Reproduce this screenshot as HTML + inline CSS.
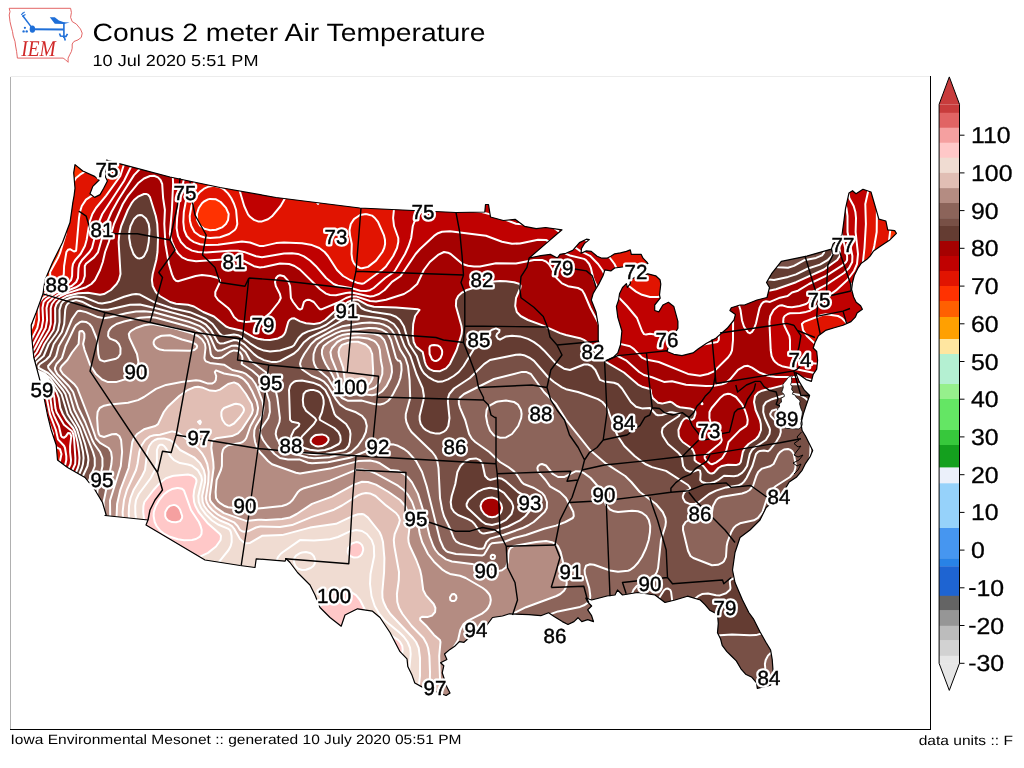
<!DOCTYPE html><html><head><meta charset="utf-8"><style>html,body{margin:0;padding:0;background:#fff;width:1024px;height:768px;overflow:hidden}svg{display:block}text{font-family:"Liberation Sans",sans-serif;text-rendering:geometricPrecision}</style></head><body><svg width="1024" height="768" viewBox="0 0 1024 768"><rect width="1024" height="768" fill="#fff"/><g opacity="0.998"><path d="M9.2 8.3 L70.6 8.3 L71.4 12.5 L70.6 17.4 L72.2 21.6 L76.4 24.1 L80.5 29.1 L82.2 33.2 L81.3 37.4 L78.0 39.9 L73.9 41.5 L72.2 44.0 L72.2 48.2 L71.4 51.5 L69.7 54.8 L68.1 58.1 L68.1 62.3 L65.6 59.8 L63.1 58.1 L17.4 58.1 L16.6 51.5 L15.6 46.0 L15.0 41.5 L13.2 36.0 L12.5 31.6 L11.0 26.0 L10.0 21.6 L9.6 18.0 L9.2 15.0 L10.0 11.6Z" fill="none" stroke="#e05555" stroke-width="0.9"/><g stroke="#1f6fd8" fill="#1f6fd8"><path d="M22.6 15.5 L31.8 27.6" stroke-width="1.5" fill="none"/><path d="M21.3 14.8 L23.3 12.6 M22.2 16.3 L25.5 14.4 M23.3 13.2 L24.6 11.8" stroke-width="1.1" fill="none"/><ellipse cx="32.4" cy="29.2" rx="2.7" ry="3.6" stroke="none"/><path d="M32.4 29.2 L63.9 29.6" stroke-width="2" fill="none"/><path d="M63.9 22.4 L63.9 38" stroke-width="1.6" fill="none"/><path d="M49.8 17.2 L54.8 17.2 L58.9 20.6 L63.9 22.2 L69.7 22.6 L63.9 23.9 L54.8 23.7 Z" stroke="none"/><path d="M59.5 33.5 L60.5 36 L66 36.5 L67.5 33.8 M64 36.3 L65.3 40.5" stroke-width="1.6" fill="none"/><circle cx="24.9" cy="27.8" r="1.1" stroke="none"/><circle cx="23.6" cy="31.4" r="1.2" stroke="none"/><circle cx="26.7" cy="31.4" r="1.2" stroke="none"/></g><text x="21.2" y="55.6" font-style="italic" font-size="22.5" fill="#d02828" style="font-family:'Liberation Serif',serif" textLength="34.5" lengthAdjust="spacingAndGlyphs">IEM</text><text x="92.5" y="40.6" font-size="25" fill="#000" textLength="393" lengthAdjust="spacingAndGlyphs">Conus 2 meter Air Temperature</text><text x="92.5" y="65.6" font-size="16" fill="#000" textLength="166" lengthAdjust="spacingAndGlyphs">10 Jul 2020 5:51 PM</text><path d="M10.5 76.5 H930" stroke="#ececec" stroke-width="1" fill="none"/><path d="M10.5 77 V729" stroke="#b0b0b0" stroke-width="1" fill="none"/><path d="M10 729.5 H931 M930.5 76 V730" stroke="#000" stroke-width="1" fill="none"/><defs><clipPath id="us"><path d="M75.0 164.6 L82.8 171.0 L94.6 176.4 L99.2 180.0 L92.8 186.4 L90.0 193.7 L94.6 197.4 L100.1 194.6 L103.7 188.3 L107.4 181.0 L105.6 177.3 L106.5 160.0 L119.2 163.7 L140.0 169.1 L170.0 177.0 L220.0 187.5 L276.0 197.5 L359.8 208.0 L456.0 212.5 L484.8 212.0 L485.5 204.5 L488.5 204.5 L490.5 217.0 L503.4 220.5 L515.1 219.3 L524.5 226.3 L536.2 228.7 L545.6 227.5 L562.0 229.8 L545.6 243.9 L529.2 258.0 L540.9 255.6 L550.3 254.4 L557.3 258.0 L560.0 254.3 L565.9 253.3 L572.7 250.4 L579.5 242.6 L586.4 239.2 L589.3 239.6 L584.4 243.6 L581.5 248.4 L581.0 253.3 L586.4 250.9 L591.3 251.4 L597.1 256.3 L602.0 258.2 L606.9 258.2 L610.8 256.3 L614.7 253.8 L620.5 252.8 L626.4 251.4 L630.3 249.9 L631.3 254.3 L637.1 254.3 L641.1 254.3 L643.0 258.2 L646.9 262.1 L647.9 263.6 L638.1 264.6 L630.3 266.0 L622.5 267.0 L614.7 268.0 L610.8 270.9 L604.9 269.9 L603.0 275.8 L599.1 283.6 L596.1 288.5 L593.2 293.4 L591.3 300.0 L596.0 312.0 L598.2 325.0 L598.2 340.0 L601.0 352.0 L604.5 360.0 L606.8 360.4 L613.7 357.0 L617.8 352.9 L620.5 344.7 L621.9 331.0 L617.8 317.3 L616.4 306.4 L618.6 300.0 L619.6 293.4 L622.5 287.5 L626.4 283.6 L627.4 287.5 L630.3 283.6 L630.3 279.7 L638.1 275.8 L647.9 273.8 L655.7 275.8 L660.0 279.7 L660.8 284.0 L659.5 295.0 L660.2 298.2 L654.7 305.0 L654.7 310.5 L658.8 311.9 L662.9 305.0 L668.4 302.3 L673.8 306.4 L677.9 321.4 L677.9 328.3 L673.8 335.1 L671.1 342.0 L668.4 347.4 L667.0 351.5 L673.8 354.3 L682.0 355.6 L693.0 352.9 L698.4 348.8 L706.6 343.3 L716.2 337.9 L727.2 328.3 L734.0 320.0 L735.4 314.6 L729.9 310.5 L731.3 307.8 L740.0 305.0 L744.5 305.0 L757.0 300.0 L767.0 297.5 L769.5 287.5 L766.5 282.5 L771.6 273.7 L781.3 261.4 L806.8 256.1 L831.4 249.1 L833.2 243.8 L842.0 235.0 L843.7 222.7 L845.5 208.7 L849.0 192.9 L852.5 190.7 L856.0 193.7 L863.0 189.3 L871.0 192.0 L878.9 219.2 L885.9 221.0 L887.7 229.8 L894.7 230.6 L896.4 233.3 L892.9 236.8 L889.4 240.3 L884.1 243.8 L878.9 247.3 L873.6 250.9 L870.1 256.1 L866.6 259.6 L861.3 263.2 L857.8 268.4 L854.3 275.5 L852.5 282.5 L851.6 289.5 L853.6 297.0 L856.2 302.3 L860.6 305.8 L862.4 309.3 L857.1 312.9 L855.3 317.2 L851.0 321.6 L843.0 325.2 L834.3 327.8 L825.5 330.4 L818.4 335.7 L814.9 342.7 L813.2 348.0 L816.7 351.5 L817.6 360.3 L816.7 369.1 L813.2 374.4 L811.4 381.4 L806.1 379.6 L799.1 374.4 L795.6 372.6 L799.1 381.4 L804.4 390.2 L809.6 395.5 L808.0 400.0 L805.6 407.0 L803.3 414.1 L801.0 423.4 L802.1 430.5 L805.6 436.3 L812.7 450.4 L810.3 456.3 L805.6 463.3 L802.1 470.3 L796.3 477.3 L789.2 482.0 L784.5 490.0 L775.0 500.0 L766.2 507.5 L760.0 520.0 L750.0 530.0 L740.0 537.5 L735.0 552.5 L732.5 570.0 L735.0 582.5 L742.5 600.0 L748.8 612.5 L753.4 618.8 L759.7 631.3 L765.9 642.2 L770.6 650.0 L772.2 659.4 L773.0 670.3 L770.6 685.2 L764.4 686.7 L757.3 688.3 L756.6 682.8 L751.9 677.3 L745.6 674.2 L740.9 668.8 L736.3 660.9 L731.6 656.3 L726.9 651.6 L722.2 645.3 L720.6 639.0 L717.5 632.8 L718.3 623.4 L717.5 614.1 L709.7 610.2 L705.0 604.7 L700.3 600.0 L687.5 596.2 L675.0 600.0 L665.0 602.5 L655.0 595.0 L637.5 592.5 L622.5 595.0 L617.5 590.0 L615.0 595.0 L607.0 596.0 L599.4 598.0 L591.6 600.0 L585.7 598.0 L587.7 602.0 L591.6 606.0 L587.7 609.8 L591.6 615.7 L593.5 621.6 L587.7 619.6 L581.8 621.6 L578.0 617.7 L574.0 621.6 L568.0 624.5 L562.3 621.6 L554.5 616.7 L548.6 612.8 L540.8 615.7 L529.0 614.7 L509.5 613.8 L502.5 616.0 L492.5 617.5 L485.0 627.5 L475.0 632.5 L464.0 642.3 L459.4 641.6 L454.7 646.2 L450.0 649.4 L444.5 654.0 L446.9 659.5 L440.6 662.7 L443.8 665.8 L442.2 672.8 L443.8 677.5 L446.9 686.9 L450.0 693.1 L446.1 695.5 L434.0 691.0 L421.9 686.9 L414.8 683.0 L411.7 674.4 L407.8 666.6 L407.0 658.8 L400.0 651.7 L390.0 632.5 L380.0 617.5 L372.5 611.2 L357.5 608.8 L345.0 615.0 L341.2 626.2 L330.0 617.5 L320.0 607.5 L315.0 595.0 L310.0 585.0 L297.5 572.5 L290.0 562.5 L286.2 558.8 L285.0 561.2 L256.2 558.8 L255.0 567.5 L240.0 565.5 L205.0 560.0 L146.0 525.0 L148.0 520.0 L105.0 515.5 L106.2 515.0 L102.5 502.5 L95.0 490.0 L85.0 477.5 L67.5 467.5 L57.5 460.0 L56.2 445.0 L51.2 430.0 L47.5 415.0 L45.0 402.5 L42.5 390.0 L38.8 376.2 L33.8 357.5 L32.5 345.0 L31.5 335.0 L31.2 325.0 L36.2 312.5 L43.0 293.8 L45.0 280.0 L52.5 262.5 L62.5 242.5 L70.0 222.5 L71.8 210.1 L72.8 202.8 L74.1 195.6 L75.0 188.3 L73.7 172.8Z"/></clipPath></defs><g clip-path="url(#us)"><path d="M75.0 164.6 L82.8 171.0 L94.6 176.4 L99.2 180.0 L92.8 186.4 L90.0 193.7 L94.6 197.4 L100.1 194.6 L103.7 188.3 L107.4 181.0 L105.6 177.3 L106.5 160.0 L119.2 163.7 L140.0 169.1 L170.0 177.0 L220.0 187.5 L276.0 197.5 L359.8 208.0 L456.0 212.5 L484.8 212.0 L485.5 204.5 L488.5 204.5 L490.5 217.0 L503.4 220.5 L515.1 219.3 L524.5 226.3 L536.2 228.7 L545.6 227.5 L562.0 229.8 L545.6 243.9 L529.2 258.0 L540.9 255.6 L550.3 254.4 L557.3 258.0 L560.0 254.3 L565.9 253.3 L572.7 250.4 L579.5 242.6 L586.4 239.2 L589.3 239.6 L584.4 243.6 L581.5 248.4 L581.0 253.3 L586.4 250.9 L591.3 251.4 L597.1 256.3 L602.0 258.2 L606.9 258.2 L610.8 256.3 L614.7 253.8 L620.5 252.8 L626.4 251.4 L630.3 249.9 L631.3 254.3 L637.1 254.3 L641.1 254.3 L643.0 258.2 L646.9 262.1 L647.9 263.6 L638.1 264.6 L630.3 266.0 L622.5 267.0 L614.7 268.0 L610.8 270.9 L604.9 269.9 L603.0 275.8 L599.1 283.6 L596.1 288.5 L593.2 293.4 L591.3 300.0 L596.0 312.0 L598.2 325.0 L598.2 340.0 L601.0 352.0 L604.5 360.0 L606.8 360.4 L613.7 357.0 L617.8 352.9 L620.5 344.7 L621.9 331.0 L617.8 317.3 L616.4 306.4 L618.6 300.0 L619.6 293.4 L622.5 287.5 L626.4 283.6 L627.4 287.5 L630.3 283.6 L630.3 279.7 L638.1 275.8 L647.9 273.8 L655.7 275.8 L660.0 279.7 L660.8 284.0 L659.5 295.0 L660.2 298.2 L654.7 305.0 L654.7 310.5 L658.8 311.9 L662.9 305.0 L668.4 302.3 L673.8 306.4 L677.9 321.4 L677.9 328.3 L673.8 335.1 L671.1 342.0 L668.4 347.4 L667.0 351.5 L673.8 354.3 L682.0 355.6 L693.0 352.9 L698.4 348.8 L706.6 343.3 L716.2 337.9 L727.2 328.3 L734.0 320.0 L735.4 314.6 L729.9 310.5 L731.3 307.8 L740.0 305.0 L744.5 305.0 L757.0 300.0 L767.0 297.5 L769.5 287.5 L766.5 282.5 L771.6 273.7 L781.3 261.4 L806.8 256.1 L831.4 249.1 L833.2 243.8 L842.0 235.0 L843.7 222.7 L845.5 208.7 L849.0 192.9 L852.5 190.7 L856.0 193.7 L863.0 189.3 L871.0 192.0 L878.9 219.2 L885.9 221.0 L887.7 229.8 L894.7 230.6 L896.4 233.3 L892.9 236.8 L889.4 240.3 L884.1 243.8 L878.9 247.3 L873.6 250.9 L870.1 256.1 L866.6 259.6 L861.3 263.2 L857.8 268.4 L854.3 275.5 L852.5 282.5 L851.6 289.5 L853.6 297.0 L856.2 302.3 L860.6 305.8 L862.4 309.3 L857.1 312.9 L855.3 317.2 L851.0 321.6 L843.0 325.2 L834.3 327.8 L825.5 330.4 L818.4 335.7 L814.9 342.7 L813.2 348.0 L816.7 351.5 L817.6 360.3 L816.7 369.1 L813.2 374.4 L811.4 381.4 L806.1 379.6 L799.1 374.4 L795.6 372.6 L799.1 381.4 L804.4 390.2 L809.6 395.5 L808.0 400.0 L805.6 407.0 L803.3 414.1 L801.0 423.4 L802.1 430.5 L805.6 436.3 L812.7 450.4 L810.3 456.3 L805.6 463.3 L802.1 470.3 L796.3 477.3 L789.2 482.0 L784.5 490.0 L775.0 500.0 L766.2 507.5 L760.0 520.0 L750.0 530.0 L740.0 537.5 L735.0 552.5 L732.5 570.0 L735.0 582.5 L742.5 600.0 L748.8 612.5 L753.4 618.8 L759.7 631.3 L765.9 642.2 L770.6 650.0 L772.2 659.4 L773.0 670.3 L770.6 685.2 L764.4 686.7 L757.3 688.3 L756.6 682.8 L751.9 677.3 L745.6 674.2 L740.9 668.8 L736.3 660.9 L731.6 656.3 L726.9 651.6 L722.2 645.3 L720.6 639.0 L717.5 632.8 L718.3 623.4 L717.5 614.1 L709.7 610.2 L705.0 604.7 L700.3 600.0 L687.5 596.2 L675.0 600.0 L665.0 602.5 L655.0 595.0 L637.5 592.5 L622.5 595.0 L617.5 590.0 L615.0 595.0 L607.0 596.0 L599.4 598.0 L591.6 600.0 L585.7 598.0 L587.7 602.0 L591.6 606.0 L587.7 609.8 L591.6 615.7 L593.5 621.6 L587.7 619.6 L581.8 621.6 L578.0 617.7 L574.0 621.6 L568.0 624.5 L562.3 621.6 L554.5 616.7 L548.6 612.8 L540.8 615.7 L529.0 614.7 L509.5 613.8 L502.5 616.0 L492.5 617.5 L485.0 627.5 L475.0 632.5 L464.0 642.3 L459.4 641.6 L454.7 646.2 L450.0 649.4 L444.5 654.0 L446.9 659.5 L440.6 662.7 L443.8 665.8 L442.2 672.8 L443.8 677.5 L446.9 686.9 L450.0 693.1 L446.1 695.5 L434.0 691.0 L421.9 686.9 L414.8 683.0 L411.7 674.4 L407.8 666.6 L407.0 658.8 L400.0 651.7 L390.0 632.5 L380.0 617.5 L372.5 611.2 L357.5 608.8 L345.0 615.0 L341.2 626.2 L330.0 617.5 L320.0 607.5 L315.0 595.0 L310.0 585.0 L297.5 572.5 L290.0 562.5 L286.2 558.8 L285.0 561.2 L256.2 558.8 L255.0 567.5 L240.0 565.5 L205.0 560.0 L146.0 525.0 L148.0 520.0 L105.0 515.5 L106.2 515.0 L102.5 502.5 L95.0 490.0 L85.0 477.5 L67.5 467.5 L57.5 460.0 L56.2 445.0 L51.2 430.0 L47.5 415.0 L45.0 402.5 L42.5 390.0 L38.8 376.2 L33.8 357.5 L32.5 345.0 L31.5 335.0 L31.2 325.0 L36.2 312.5 L43.0 293.8 L45.0 280.0 L52.5 262.5 L62.5 242.5 L70.0 222.5 L71.8 210.1 L72.8 202.8 L74.1 195.6 L75.0 188.3 L73.7 172.8Z" fill="#8c645a"/><path fill="#ffa000" d="M22.0 150.0L34.9 150.0 30.3 166.0 27.5 182.0 26.3 198.0 26.4 226.0 25.9 238.0 24.1 250.0 20.0 268.7 20.0 150.0Z"/><path fill="#ff6000" d="M36.0 150.0L62.2 150.0 56.0 160.9 52.0 169.5 49.0 178.0 47.2 186.0 45.6 202.0 45.9 234.0 44.4 246.0 37.5 264.0 33.8 280.0 24.0 294.0 21.5 300.0 20.0 305.8 20.0 268.7 24.1 250.0 25.9 238.0 26.4 226.0 26.3 200.0 27.1 186.0 29.9 168.0 34.9 150.0ZM20.9 386.0L26.4 390.0 28.6 394.0 29.9 422.0 28.8 436.0 23.6 468.0 20.0 484.9 20.0 385.4Z"/><path fill="#ff3200" d="M62.0 150.3L101.8 150.0 98.0 158.2 94.0 164.3 90.0 168.3 80.0 174.7 76.0 178.0 71.0 186.0 68.9 192.0 67.3 200.0 66.5 226.0 65.7 234.0 60.0 253.2 58.0 257.8 50.1 272.0 50.4 280.0 48.0 286.0 44.7 290.0 36.0 294.5 34.0 296.3 31.5 300.0 30.1 306.0 29.8 316.0 29.1 320.0 20.0 341.9 20.4 304.0 24.0 294.0 33.8 280.0 37.5 264.0 44.4 246.0 45.9 234.0 45.6 202.0 47.2 186.0 49.0 178.0 52.0 169.5 61.0 152.0ZM904.0 150.0L906.0 150.0 906.0 284.5 896.0 276.9 890.7 272.0 888.0 268.0 886.4 262.0 892.0 216.0 894.0 208.1 899.9 190.0 902.4 178.0 903.7 164.0 903.4 150.0ZM208.0 199.4L214.0 198.9 218.0 200.2 224.0 205.2 228.0 211.6 228.9 216.0 227.2 222.0 224.0 226.0 220.0 228.5 216.0 229.8 212.0 230.3 206.0 229.5 200.5 226.0 197.8 222.0 196.7 216.0 198.0 209.8 202.0 203.3 206.6 200.0ZM21.8 378.0L28.0 381.4 37.3 384.0 38.6 386.0 38.8 390.0 37.2 402.0 41.1 432.0 39.0 448.0 38.6 464.0 37.9 470.0 27.3 514.0 20.0 553.4 20.0 484.9 23.6 468.0 28.8 436.0 29.9 422.0 28.6 394.0 26.4 390.0 20.0 385.4 20.0 376.4Z"/><path fill="#e11400" d="M102.0 150.0L129.9 150.0 125.4 160.0 120.3 176.0 106.0 195.8 96.0 208.0 92.4 214.0 89.6 222.0 86.6 240.0 84.9 246.0 80.6 254.0 75.3 260.0 73.0 264.0 72.3 268.0 72.1 276.0 71.1 280.0 68.0 283.4 56.0 289.1 42.7 298.0 39.4 302.0 38.5 306.0 39.0 320.0 37.3 328.0 30.0 342.3 22.8 354.0 20.8 360.0 20.6 364.0 21.4 368.0 23.5 372.0 25.3 374.0 30.0 377.1 40.0 380.1 42.2 382.0 43.2 384.0 44.4 390.0 43.9 402.0 48.0 420.0 53.1 434.0 52.1 442.0 54.0 446.0 60.0 449.1 61.5 454.0 60.0 460.9 52.0 476.0 47.4 488.0 43.6 502.0 39.8 522.0 34.1 564.0 30.2 606.0 27.7 654.0 26.6 706.0 20.0 706.0 20.0 553.4 27.3 514.0 37.9 470.0 38.6 464.0 39.0 448.0 41.1 432.0 37.2 402.0 38.8 390.0 38.6 386.0 37.3 384.0 26.0 380.6 20.0 376.4 20.0 341.9 29.1 320.0 29.8 316.0 30.1 306.0 31.5 300.0 34.0 296.3 36.0 294.5 44.7 290.0 48.0 286.0 50.4 280.0 50.1 272.0 58.0 257.8 60.0 253.2 65.7 234.0 66.5 226.0 67.3 200.0 68.9 192.0 71.0 186.0 76.0 178.0 80.0 174.7 90.0 168.3 94.0 164.3 98.0 158.2 101.8 150.0ZM310.0 151.2L310.7 150.0 655.5 150.0 654.0 162.0 653.4 174.0 654.5 200.0 656.2 214.0 658.8 228.0 669.5 268.0 670.4 280.0 668.8 288.0 666.5 292.0 664.6 294.0 661.4 296.0 658.0 297.0 654.0 297.3 648.0 296.7 640.0 293.9 636.0 291.6 624.0 281.8 620.1 276.0 614.0 263.2 610.0 258.0 586.0 240.4 568.0 218.4 562.0 212.9 556.0 208.6 546.0 203.7 516.6 194.0 460.0 171.0 446.0 166.5 434.0 164.3 424.0 164.0 414.0 166.0 406.0 170.3 402.2 174.0 400.0 177.2 397.8 182.0 396.0 189.2 393.1 218.0 394.0 226.0 398.3 238.0 398.3 242.0 397.0 248.0 393.2 256.0 386.0 266.4 382.1 270.0 364.0 283.3 362.0 283.7 358.0 283.1 350.2 280.0 343.1 276.0 337.0 270.0 328.0 256.0 324.6 252.0 319.3 248.0 312.0 245.1 302.0 243.3 284.0 242.5 276.0 243.1 264.0 245.9 260.0 246.1 250.0 242.5 242.0 241.4 218.0 244.7 206.0 245.1 200.0 244.2 194.0 242.1 190.0 239.5 186.7 236.0 184.2 230.0 183.3 222.0 183.8 212.0 185.7 202.0 189.2 192.0 193.5 184.0 198.0 177.9 204.0 172.3 210.0 169.0 214.0 168.0 218.0 167.8 224.0 169.2 230.0 173.1 234.2 178.0 238.0 185.1 244.2 206.0 248.0 214.3 250.0 216.8 254.0 219.9 258.0 221.4 262.0 221.4 268.0 219.2 272.0 216.3 280.6 206.0 285.2 198.0 298.0 170.7 309.5 152.0ZM206.6 200.0L202.0 203.3 198.0 209.8 196.7 216.0 197.8 222.0 200.5 226.0 206.0 229.5 212.0 230.3 216.0 229.8 220.0 228.5 224.0 226.0 227.2 222.0 228.9 216.0 228.0 211.6 224.0 205.2 218.0 200.2 214.0 198.9 208.0 199.4ZM860.0 150.0L903.4 150.0 903.7 164.0 902.4 178.0 899.9 190.0 894.0 208.1 892.0 216.0 886.4 262.0 888.0 268.0 890.7 272.0 896.0 276.9 906.0 284.5 906.0 345.4 895.1 332.0 882.6 310.0 874.8 300.0 870.0 296.1 866.0 294.2 854.0 292.1 852.0 290.4 851.1 288.0 851.9 284.0 857.4 278.0 859.8 274.0 862.7 264.0 864.5 248.0 865.9 224.0 865.3 204.0 868.0 192.0 867.6 186.0 864.9 172.0 859.4 150.0ZM820.0 315.7L824.0 314.4 826.0 314.3 836.0 315.4 840.0 316.9 844.0 320.0 848.2 326.0 849.7 330.0 850.2 334.0 848.6 340.0 845.2 344.0 842.0 346.2 836.0 348.5 830.0 349.3 824.0 348.9 818.0 346.4 806.9 336.0 803.0 330.0 801.9 324.0 804.0 321.9 819.4 316.0Z"/><path fill="#c00000" d="M130.0 150.0L310.7 150.0 298.0 170.7 285.2 198.0 280.6 206.0 272.0 216.3 268.0 219.2 264.0 221.0 260.0 221.6 256.0 220.9 252.0 218.6 248.0 214.3 244.2 206.0 240.4 192.0 237.5 184.0 234.0 177.7 228.0 171.5 222.0 168.5 216.0 167.8 210.0 169.0 206.0 171.0 202.0 173.9 194.8 182.0 189.2 192.0 185.2 204.0 183.4 216.0 183.5 226.0 185.5 234.0 188.0 237.6 190.6 240.0 198.0 243.7 206.0 245.1 214.0 245.0 242.0 241.4 250.0 242.5 260.0 246.1 264.0 245.9 274.0 243.4 282.0 242.5 300.0 243.2 310.0 244.6 318.0 247.3 324.0 251.4 328.0 256.0 337.0 270.0 343.1 276.0 350.2 280.0 358.0 283.1 362.0 283.7 364.0 283.3 382.1 270.0 386.0 266.4 393.2 256.0 397.0 248.0 398.3 242.0 398.3 238.0 394.0 226.0 393.1 218.0 396.0 189.2 397.8 182.0 400.0 177.2 402.2 174.0 406.0 170.3 414.0 166.0 424.0 164.0 434.0 164.3 446.0 166.5 460.0 171.0 516.6 194.0 546.0 203.7 556.0 208.6 562.0 212.9 568.0 218.4 586.0 240.4 610.0 258.0 614.5 264.0 621.2 278.0 626.0 283.8 636.0 291.6 640.0 293.9 646.0 296.2 654.0 297.3 658.0 297.0 661.4 296.0 666.5 292.0 669.4 286.0 670.4 278.0 668.7 264.0 659.3 230.0 655.1 206.0 653.7 190.0 653.4 176.0 654.0 162.0 655.5 150.0 711.3 150.0 706.3 158.0 702.5 166.0 699.5 174.0 696.9 184.0 695.2 194.0 694.4 204.0 694.9 224.0 696.6 236.0 699.1 248.0 702.5 260.0 706.1 270.0 713.8 286.0 728.0 307.8 732.3 316.0 733.1 320.0 733.1 338.0 732.4 348.0 731.5 352.0 728.0 357.5 714.0 371.4 704.0 375.2 698.0 375.6 686.0 373.3 658.0 361.7 646.0 359.6 642.0 357.7 634.0 349.1 630.0 346.3 618.0 343.4 614.0 341.7 612.0 339.8 611.3 336.0 612.7 322.0 611.7 314.0 594.7 282.0 593.2 278.0 590.9 268.0 588.0 262.3 585.8 260.0 582.0 258.1 571.8 256.0 566.3 254.0 550.1 242.0 544.0 239.6 536.0 240.0 520.0 243.5 512.0 243.7 503.1 242.0 488.0 236.3 484.0 235.5 450.0 231.3 444.0 231.3 440.0 232.3 434.0 235.9 418.0 251.1 400.7 276.0 392.0 281.8 382.2 292.0 378.0 294.5 372.0 296.3 368.0 296.2 352.0 292.7 346.0 293.0 336.0 295.3 332.0 295.4 328.0 294.5 324.0 292.4 318.5 288.0 300.0 269.6 294.0 265.8 288.0 263.7 284.0 263.2 278.0 263.6 264.0 267.0 260.0 267.4 254.0 266.2 242.0 260.2 236.0 259.0 200.0 261.2 194.0 261.1 188.0 260.1 182.0 257.3 176.9 252.0 172.8 244.0 169.8 234.0 171.9 210.0 173.1 184.0 172.8 176.0 171.3 170.0 168.0 164.6 166.0 162.8 162.0 160.9 156.0 160.4 148.0 162.9 142.0 166.8 134.8 174.0 114.7 206.0 109.6 216.0 106.2 224.0 98.0 252.3 94.0 257.4 86.0 263.8 84.8 266.0 84.8 276.0 82.8 282.0 80.0 284.9 76.0 287.3 58.0 294.5 52.7 298.0 48.3 302.0 46.7 306.0 47.1 320.0 45.7 328.0 35.0 348.0 28.2 358.0 26.7 362.0 27.0 368.0 29.6 372.0 34.0 374.8 42.2 378.0 44.6 380.0 47.2 384.0 49.3 390.0 52.0 410.0 54.0 415.6 58.9 426.0 61.2 436.0 62.0 437.0 64.0 437.7 66.0 436.1 68.0 433.1 70.0 433.2 71.3 436.0 70.1 446.0 70.1 452.0 71.0 460.0 70.6 464.0 61.9 482.0 57.5 496.0 54.3 516.0 50.5 554.0 48.4 588.0 47.5 622.0 47.9 662.0 49.3 706.0 26.6 706.0 27.5 658.0 29.5 616.0 32.6 578.0 37.1 540.0 41.2 514.0 45.6 494.0 51.1 478.0 60.0 460.9 61.5 454.0 60.0 449.1 54.0 446.0 52.1 442.0 53.1 434.0 48.0 420.0 43.9 402.0 44.4 390.0 43.2 384.0 42.2 382.0 40.0 380.1 30.0 377.1 25.3 374.0 23.5 372.0 21.4 368.0 20.6 364.0 20.8 360.0 22.8 354.0 30.0 342.3 37.3 328.0 39.0 320.0 38.5 306.0 39.4 302.0 42.7 298.0 56.0 289.1 68.0 283.4 71.1 280.0 72.1 276.0 72.3 268.0 73.0 264.0 75.3 260.0 80.6 254.0 84.9 246.0 86.6 240.0 89.6 222.0 92.4 214.0 96.0 208.0 106.0 195.8 120.3 176.0 125.4 160.0 129.9 150.0ZM818.0 150.0L859.4 150.0 864.9 172.0 867.6 186.0 868.0 192.0 865.3 204.0 865.9 224.0 864.5 248.0 862.7 264.0 859.8 274.0 857.4 278.0 851.9 284.0 851.1 288.0 852.0 290.4 854.0 292.1 866.0 294.2 870.0 296.1 874.8 300.0 882.6 310.0 895.1 332.0 906.0 345.4 906.0 423.7 896.0 412.0 885.8 402.0 875.6 394.0 865.6 388.0 852.0 382.2 836.0 377.4 782.0 366.2 778.0 364.3 775.2 362.0 773.5 360.0 771.6 356.0 770.7 350.0 769.4 322.0 770.3 316.0 773.6 310.0 778.0 306.3 780.0 305.4 782.0 305.2 788.0 307.1 792.0 307.3 799.6 306.0 806.1 304.0 808.7 302.0 811.3 294.0 812.7 292.0 826.0 284.8 844.0 273.0 849.0 268.0 852.2 262.0 852.4 256.0 847.5 232.0 847.5 216.0 846.4 208.0 839.3 194.0 832.0 175.1 828.0 166.4 823.2 158.0 817.5 150.0ZM819.4 316.0L804.0 321.9 801.9 324.0 803.0 330.0 806.9 336.0 818.0 346.4 824.0 348.9 830.0 349.3 836.0 348.5 842.0 346.2 845.2 344.0 848.6 340.0 850.2 334.0 849.7 330.0 848.2 326.0 844.0 320.0 840.0 316.9 836.0 315.4 826.0 314.3 824.0 314.4 820.0 315.7Z"/><path fill="#a50000" d="M710.0 151.8L711.3 150.0 817.5 150.0 824.0 159.3 828.8 168.0 839.3 194.0 846.4 208.0 847.5 216.0 847.5 232.0 852.4 256.0 852.2 262.0 849.0 268.0 844.0 273.0 826.0 284.8 812.7 292.0 811.3 294.0 808.7 302.0 806.1 304.0 799.6 306.0 792.0 307.3 788.0 307.1 782.0 305.2 780.0 305.4 778.0 306.3 773.6 310.0 770.3 316.0 769.4 322.0 771.1 354.0 772.4 358.0 775.2 362.0 778.0 364.3 782.0 366.2 836.0 377.4 852.0 382.2 865.6 388.0 875.6 394.0 885.8 402.0 896.0 412.0 906.0 423.7 906.0 555.9 890.4 546.0 879.9 538.0 871.8 530.0 866.0 522.0 862.3 514.0 859.7 504.0 858.8 494.0 858.6 468.0 857.8 456.0 855.2 442.0 851.0 430.0 844.5 418.0 834.6 406.0 828.2 400.0 820.4 394.0 808.0 386.6 800.0 384.0 790.0 384.2 782.0 385.6 762.0 390.7 758.0 392.6 755.1 396.0 754.0 402.0 755.6 410.0 759.9 420.0 760.8 424.0 761.0 430.0 758.6 436.0 756.0 439.0 748.6 444.0 744.8 448.0 742.8 452.0 740.8 462.0 739.3 464.0 736.0 465.1 728.0 464.8 722.0 465.9 718.3 468.0 714.0 472.7 712.0 473.5 710.0 473.3 708.0 471.9 703.4 466.0 696.5 462.0 694.6 460.0 694.6 454.0 693.0 450.0 691.2 448.0 682.7 442.0 680.0 438.6 678.8 436.0 678.4 430.0 681.7 422.0 684.0 419.1 686.0 418.1 688.0 418.3 690.0 419.6 692.0 419.7 694.0 418.2 695.4 414.0 695.4 412.0 694.3 410.0 690.0 408.4 680.0 407.3 676.8 406.0 672.0 402.4 670.0 401.7 662.0 403.6 658.0 402.8 652.8 398.0 651.2 394.0 650.8 390.0 650.0 389.0 642.0 386.7 638.0 384.6 624.0 372.5 608.0 363.2 599.5 356.0 588.0 342.9 584.0 339.9 580.0 338.2 566.0 335.0 560.0 333.1 542.0 325.1 528.0 320.0 520.6 316.0 516.8 312.0 515.2 306.0 516.0 298.0 520.3 288.0 520.7 286.0 519.7 284.0 514.0 282.2 506.0 281.2 500.0 280.9 494.0 281.5 466.8 290.0 462.0 292.6 458.2 296.0 456.2 300.0 455.9 306.0 461.5 326.0 462.0 330.0 461.6 334.0 456.6 350.0 450.0 363.8 446.0 368.4 440.0 371.2 434.0 371.1 430.0 369.4 428.0 367.9 426.0 365.0 424.9 362.0 422.7 352.0 416.0 346.6 413.7 342.0 412.7 334.0 413.2 324.0 415.1 316.0 419.5 310.0 418.0 309.3 396.0 307.4 374.0 306.7 368.0 305.3 358.0 299.8 354.0 299.5 347.7 302.0 334.0 312.1 325.2 320.0 320.0 323.0 314.0 323.9 306.0 323.2 300.0 321.4 294.0 318.2 292.0 318.4 289.5 320.0 288.2 322.0 285.4 332.0 284.0 334.5 282.0 336.5 278.0 338.4 270.0 339.9 264.0 339.8 258.0 338.8 254.0 337.4 242.0 330.7 230.0 328.1 226.0 326.5 214.0 316.5 203.3 312.0 194.0 306.5 188.0 304.7 176.0 303.7 170.1 302.0 159.8 296.0 155.8 292.0 152.7 286.0 151.9 280.0 152.7 274.0 156.3 260.0 157.5 252.0 158.0 238.0 157.3 224.0 155.8 216.0 150.0 197.2 148.0 194.6 146.0 193.9 144.0 194.0 138.0 196.7 134.0 200.0 132.0 202.6 127.8 210.0 121.2 226.0 119.3 234.0 118.6 242.0 120.5 274.0 118.9 280.0 116.6 284.0 110.9 290.0 104.0 294.1 100.0 294.8 88.0 292.8 78.0 293.2 66.8 296.0 59.9 300.0 56.5 304.0 55.1 308.0 55.2 322.0 53.5 330.0 44.4 344.0 39.8 354.0 34.0 360.3 32.0 364.0 32.1 368.0 33.2 370.0 36.0 372.2 44.0 375.4 47.3 378.0 51.8 384.0 57.5 394.0 58.8 398.0 60.3 408.0 62.8 414.0 66.3 420.0 73.1 428.0 75.1 432.0 77.5 442.0 79.4 456.0 79.3 462.0 78.6 466.0 72.4 480.0 69.2 494.0 68.0 508.0 65.4 564.0 65.3 592.0 66.4 622.0 69.0 660.0 73.1 706.0 49.3 706.0 47.9 662.0 47.5 622.0 48.4 588.0 50.5 554.0 54.3 516.0 57.5 496.0 61.9 482.0 70.6 464.0 71.0 460.0 70.1 452.0 70.1 446.0 71.3 436.0 70.0 433.2 68.0 433.1 66.0 436.1 64.0 437.7 62.0 437.0 61.2 436.0 58.9 426.0 54.0 415.6 52.0 410.0 49.3 390.0 47.2 384.0 44.6 380.0 42.2 378.0 34.0 374.8 29.6 372.0 27.0 368.0 26.7 362.0 28.2 358.0 35.0 348.0 45.7 328.0 47.1 320.0 46.5 308.0 48.0 302.6 52.7 298.0 58.0 294.5 76.0 287.3 80.0 284.9 82.8 282.0 84.8 276.0 84.8 266.0 86.0 263.8 94.0 257.4 98.0 252.3 105.5 226.0 111.5 212.0 118.2 200.0 134.0 175.1 142.0 166.8 148.0 162.9 152.0 161.2 156.0 160.4 160.0 160.5 164.0 161.7 167.4 164.0 171.3 170.0 172.8 176.0 173.1 184.0 171.9 210.0 169.8 234.0 172.0 241.8 174.6 248.0 178.0 253.4 182.0 257.3 188.0 260.1 196.0 261.2 230.0 259.0 238.0 259.2 244.0 261.0 254.0 266.2 260.0 267.4 264.0 267.0 280.0 263.4 289.2 264.0 294.5 266.0 300.0 269.6 320.0 289.3 326.0 293.6 330.0 295.0 336.0 295.3 346.0 293.0 350.0 292.6 354.0 292.9 370.0 296.4 374.0 295.9 379.0 294.0 384.6 290.0 392.0 281.8 400.7 276.0 415.6 254.0 420.0 249.0 434.0 235.9 438.0 233.2 442.0 231.7 450.0 231.3 486.0 235.8 502.0 241.7 512.0 243.7 520.0 243.5 538.0 239.7 546.0 240.0 552.0 243.2 566.0 253.9 570.0 255.5 584.0 258.9 586.0 260.2 589.2 264.0 590.9 268.0 593.2 278.0 594.7 282.0 611.7 314.0 612.7 322.0 611.3 336.0 612.0 339.8 614.0 341.7 618.0 343.4 630.0 346.3 634.0 349.1 642.0 357.7 646.0 359.6 658.8 362.0 688.0 373.9 700.0 375.7 708.0 374.0 714.0 371.4 728.0 357.5 730.5 354.0 732.0 350.3 733.0 340.0 733.1 320.0 732.3 316.0 728.0 307.8 713.8 286.0 706.9 272.0 703.2 262.0 699.6 250.0 695.4 228.0 694.4 216.0 694.3 206.0 695.0 196.0 696.5 186.0 698.9 176.0 701.7 168.0 705.2 160.0 709.9 152.0ZM764.4 168.0L756.0 170.4 748.0 174.7 740.0 181.6 734.0 189.6 729.7 198.0 726.0 209.5 724.4 220.0 724.2 232.0 726.0 246.0 729.3 258.0 734.6 270.0 742.0 281.4 748.0 287.3 752.0 289.3 756.0 290.0 770.0 290.5 776.0 289.3 796.0 282.2 824.0 269.5 837.2 260.0 839.8 256.0 840.1 252.0 838.6 244.0 830.0 213.2 824.0 202.6 814.0 189.9 802.0 178.7 796.0 174.6 790.0 171.5 784.0 169.3 778.0 167.9 772.0 167.4 766.0 167.8ZM701.5 404.0L702.0 404.3 702.5 404.0 702.0 402.9ZM314.0 436.0L318.0 434.5 324.0 434.7 326.7 436.0 328.0 437.5 328.6 440.0 327.8 442.0 326.0 444.0 322.4 446.0 320.0 446.5 316.0 446.2 312.0 444.0 310.7 442.0 310.7 440.0 311.7 438.0 314.0 436.0ZM488.0 497.9L492.0 497.5 496.0 498.6 498.1 500.0 501.1 504.0 502.1 508.0 501.1 512.0 499.6 514.0 496.0 516.4 492.0 517.2 488.0 516.4 484.4 514.0 481.5 510.0 480.5 506.0 481.8 502.0 484.0 499.7 487.6 498.0Z"/><path fill="#643c32" d="M766.0 167.8L772.0 167.4 778.0 167.9 784.0 169.3 790.0 171.5 796.0 174.6 802.0 178.7 814.0 189.9 824.0 202.6 830.0 213.2 838.6 244.0 840.1 252.0 839.8 256.0 837.2 260.0 824.0 269.5 796.0 282.2 776.0 289.3 770.0 290.5 756.0 290.0 752.0 289.3 748.0 287.3 742.0 281.4 734.6 270.0 729.3 258.0 726.0 246.0 724.2 232.0 724.4 220.0 726.0 209.5 729.7 198.0 734.0 189.6 740.0 181.6 748.0 174.7 756.0 170.4 764.4 168.0ZM778.7 206.0L772.0 207.7 765.1 212.0 759.8 218.0 756.1 226.0 754.5 234.0 755.0 244.0 757.4 252.0 762.0 259.4 766.0 263.1 772.0 266.2 778.0 267.3 788.0 267.7 794.0 265.9 804.0 260.3 816.0 257.9 822.0 255.3 824.0 252.6 824.6 250.0 823.9 244.0 818.7 232.0 812.0 221.9 804.0 214.1 796.0 209.1 788.0 206.4 780.0 205.9ZM144.0 194.0L146.0 193.9 148.0 194.6 150.0 197.2 155.8 216.0 157.3 224.0 158.0 238.0 157.5 252.0 156.3 260.0 152.7 274.0 151.9 280.0 152.7 286.0 155.8 292.0 159.8 296.0 170.1 302.0 176.0 303.7 188.0 304.7 194.0 306.5 203.3 312.0 214.0 316.5 226.0 326.5 230.0 328.1 242.0 330.7 254.0 337.4 258.0 338.8 264.0 339.8 270.0 339.9 278.0 338.4 282.0 336.5 284.0 334.5 285.4 332.0 288.2 322.0 289.5 320.0 292.0 318.4 294.0 318.2 300.0 321.4 306.0 323.2 314.0 323.9 320.0 323.0 325.2 320.0 334.0 312.1 347.7 302.0 354.0 299.5 358.0 299.8 368.0 305.3 374.0 306.7 396.0 307.4 418.0 309.3 419.5 310.0 415.1 316.0 413.2 324.0 412.7 334.0 413.7 342.0 416.0 346.6 422.7 352.0 424.9 362.0 426.0 365.0 428.0 367.9 430.0 369.4 434.0 371.1 440.0 371.2 446.0 368.4 450.0 363.8 456.6 350.0 461.6 334.0 462.0 330.0 461.5 326.0 455.9 306.0 456.2 300.0 458.2 296.0 462.0 292.6 466.8 290.0 494.0 281.5 500.0 280.9 506.0 281.2 514.0 282.2 519.7 284.0 520.7 286.0 520.3 288.0 516.0 298.0 515.2 306.0 516.8 312.0 520.6 316.0 528.0 320.0 542.0 325.1 560.0 333.1 566.0 335.0 580.0 338.2 584.0 339.9 588.0 342.9 599.5 356.0 608.0 363.2 624.0 372.5 638.0 384.6 642.0 386.7 650.0 389.0 650.8 390.0 651.2 394.0 652.8 398.0 658.0 402.8 662.0 403.6 670.0 401.7 672.0 402.4 676.8 406.0 680.0 407.3 690.0 408.4 694.3 410.0 695.4 412.0 695.4 414.0 694.0 418.2 692.0 419.7 690.0 419.6 688.0 418.3 686.0 418.1 684.0 419.1 681.7 422.0 678.4 430.0 678.8 436.0 680.0 438.6 682.7 442.0 691.2 448.0 693.0 450.0 694.6 454.0 694.6 460.0 696.5 462.0 703.4 466.0 708.0 471.9 710.0 473.3 712.0 473.5 714.0 472.7 718.3 468.0 722.0 465.9 728.0 464.8 736.0 465.1 739.3 464.0 740.8 462.0 742.8 452.0 744.8 448.0 748.6 444.0 756.0 439.0 758.6 436.0 761.0 430.0 760.8 424.0 759.9 420.0 755.6 410.0 754.0 402.0 755.1 396.0 758.0 392.6 762.0 390.7 780.3 386.0 794.0 383.8 800.0 384.0 804.0 385.0 814.3 390.0 828.2 400.0 838.3 410.0 847.0 422.0 852.7 434.0 856.2 446.0 858.0 458.0 859.4 502.0 861.6 512.0 864.9 520.0 871.8 530.0 879.9 538.0 890.4 546.0 906.0 555.9 906.0 652.2 888.2 642.0 874.0 634.7 860.0 628.4 848.0 624.1 836.0 620.8 824.0 618.8 812.0 618.3 802.0 619.2 788.0 622.7 764.0 632.8 758.0 634.7 752.0 635.4 734.0 634.3 718.0 635.6 704.0 638.6 694.0 643.1 688.0 647.7 683.8 652.0 679.4 658.0 676.1 664.0 673.0 672.0 667.2 696.0 663.6 706.0 580.1 706.0 578.3 700.0 578.3 694.0 580.5 688.0 583.8 684.0 588.0 680.8 593.2 678.0 616.0 669.1 626.0 664.2 634.0 658.7 640.4 652.0 644.2 646.0 647.5 638.0 649.5 630.0 652.4 612.0 654.1 606.0 664.0 590.2 666.0 588.8 668.0 588.6 670.3 590.0 671.1 592.0 672.1 600.0 674.0 603.6 676.0 605.5 680.0 607.0 684.0 606.5 688.0 604.3 698.0 596.2 702.0 594.1 708.0 593.4 716.0 595.2 720.0 595.4 726.0 593.2 730.0 589.7 730.5 588.0 729.8 582.0 730.2 580.0 740.0 575.3 745.5 570.0 748.2 564.0 750.4 550.0 752.0 546.4 754.4 544.0 768.0 536.2 774.1 530.0 776.7 526.0 779.4 520.0 784.0 502.0 786.0 497.0 788.2 494.0 800.8 482.0 804.5 476.0 806.9 470.0 809.1 462.0 810.3 454.0 810.5 446.0 809.7 440.0 807.9 434.0 804.8 428.0 800.0 422.0 796.0 418.5 788.0 413.1 782.0 410.5 776.0 409.4 772.0 410.8 770.1 414.0 770.7 416.0 778.5 424.0 780.5 428.0 780.8 432.0 779.7 436.0 776.1 442.0 770.0 449.7 768.0 451.2 764.0 450.6 760.0 450.9 758.0 451.9 756.0 454.0 752.4 466.0 746.5 478.0 744.0 481.6 741.5 484.0 738.0 485.6 726.0 487.4 716.0 490.6 709.1 494.0 698.0 502.7 694.0 504.1 690.0 504.1 685.2 502.0 682.9 498.0 682.8 496.0 684.0 492.8 686.0 491.0 689.2 490.0 690.0 488.8 690.0 487.5 688.0 485.0 666.0 470.9 652.0 467.1 645.2 464.0 634.6 456.0 624.3 446.0 617.7 436.0 615.1 430.0 608.1 410.0 605.9 406.0 602.5 402.0 598.0 399.1 586.0 394.7 578.0 392.0 566.0 389.2 562.0 387.3 554.0 382.0 548.0 377.0 534.0 360.9 530.0 358.0 524.0 355.2 520.0 354.5 516.0 354.7 490.0 360.0 484.0 364.1 469.9 378.0 454.0 388.5 449.3 394.0 448.0 398.0 447.9 402.0 449.5 418.0 448.3 426.0 446.0 429.9 444.0 431.6 440.0 433.4 436.0 433.6 430.0 432.2 426.0 430.1 423.4 428.0 420.7 424.0 419.7 420.0 419.6 416.0 423.5 400.0 423.9 396.0 422.6 388.0 416.4 374.0 410.4 356.0 404.5 346.0 398.4 330.0 393.8 324.0 387.0 320.0 380.0 318.2 358.0 315.6 352.0 316.1 342.0 320.3 326.0 329.5 310.0 337.4 304.0 342.2 298.0 350.0 294.0 353.5 280.0 361.1 276.0 362.1 272.0 362.1 264.0 360.1 258.0 357.2 254.0 354.1 244.0 344.3 238.0 340.6 234.0 340.0 224.0 343.3 220.0 343.5 217.8 342.0 210.9 330.0 206.0 324.7 200.0 321.1 190.0 317.4 158.0 308.7 140.0 304.5 130.0 304.8 108.0 309.8 100.0 309.5 94.0 307.8 82.0 301.7 76.0 300.1 69.9 302.0 67.5 304.0 66.2 306.0 65.2 310.0 64.2 324.0 61.9 332.0 53.7 344.0 49.8 356.0 45.9 360.0 40.0 364.0 38.5 366.0 38.7 368.0 48.0 373.0 51.3 376.0 62.9 390.0 65.4 394.0 70.8 412.0 79.7 428.0 85.1 444.0 88.3 458.0 87.5 466.0 82.0 478.0 81.1 484.0 81.8 516.0 81.1 552.0 81.5 572.0 83.0 594.0 86.0 621.1 98.7 706.0 73.1 706.0 69.1 662.0 66.5 624.0 65.3 594.0 65.4 566.0 69.0 496.0 71.7 482.0 77.8 468.0 79.0 464.0 79.5 458.0 79.0 452.0 77.5 442.0 75.1 432.0 73.1 428.0 66.3 420.0 62.8 414.0 60.3 408.0 58.8 398.0 56.5 392.0 51.8 384.0 47.3 378.0 44.0 375.4 36.0 372.2 33.2 370.0 32.1 368.0 32.0 364.0 34.0 360.3 39.8 354.0 44.4 344.0 53.5 330.0 55.2 322.0 55.1 308.0 56.5 304.0 59.9 300.0 66.8 296.0 78.0 293.2 88.0 292.8 100.0 294.8 104.0 294.1 110.9 290.0 116.6 284.0 118.9 280.0 120.5 274.0 118.6 242.0 119.3 234.0 121.2 226.0 127.8 210.0 132.0 202.6 134.0 200.0 138.0 196.7 143.9 194.0ZM294.0 381.8L300.0 380.4 310.0 382.0 320.0 385.5 325.2 390.0 329.4 398.0 334.5 414.0 336.0 416.1 346.1 424.0 349.8 430.0 350.5 434.0 349.8 442.0 348.6 446.0 346.0 449.2 344.0 450.2 326.0 453.8 316.0 454.4 310.0 453.9 300.0 451.9 296.0 450.0 293.9 448.0 291.1 442.0 291.2 436.0 294.0 430.1 298.8 426.0 299.4 424.0 298.0 422.9 292.0 421.8 290.2 420.0 290.0 418.8 289.0 390.0 290.1 386.0 291.4 384.0 293.6 382.0ZM314.0 436.0L311.7 438.0 310.7 440.0 310.7 442.0 312.0 444.0 316.0 446.2 320.0 446.5 322.4 446.0 326.0 444.0 327.8 442.0 328.6 440.0 328.0 437.5 326.7 436.0 324.0 434.7 318.0 434.5 314.0 436.0ZM702.0 402.9L702.5 404.0 702.0 404.3 701.5 404.0ZM468.0 459.8L474.0 458.3 478.0 459.0 479.9 460.0 482.5 464.0 484.4 474.0 486.5 478.0 490.0 479.9 498.0 478.1 502.0 478.8 506.0 481.4 517.9 492.0 528.9 498.0 531.6 502.0 532.0 506.0 530.4 510.0 527.4 514.0 520.6 520.0 509.2 526.0 492.0 532.1 484.0 533.5 482.0 533.2 480.0 532.0 474.5 524.0 472.0 521.4 468.0 519.1 459.8 516.0 456.0 513.7 454.0 511.9 451.5 508.0 450.7 504.0 451.2 498.0 455.3 484.0 456.9 474.0 458.1 470.0 462.1 464.0 467.6 460.0ZM487.6 498.0L484.0 499.7 481.8 502.0 480.5 506.0 481.5 510.0 484.4 514.0 488.0 516.4 492.0 517.2 496.0 516.4 499.6 514.0 501.1 512.0 502.1 508.0 501.1 504.0 498.1 500.0 496.0 498.6 492.0 497.5 488.0 497.9Z"/><path fill="#785046" d="M780.0 205.9L788.0 206.4 796.0 209.1 804.0 214.1 812.0 221.9 818.7 232.0 823.9 244.0 824.6 250.0 824.0 252.6 822.0 255.3 816.0 257.9 804.0 260.3 794.0 265.9 788.0 267.7 778.0 267.3 772.0 266.2 766.0 263.1 762.0 259.4 757.4 252.0 755.0 244.0 754.5 234.0 756.1 226.0 759.8 218.0 765.1 212.0 772.0 207.7 778.7 206.0ZM786.6 230.0L782.0 231.9 779.8 234.0 777.9 238.0 777.6 242.0 778.9 246.0 782.0 249.8 786.0 251.6 788.0 251.8 793.3 250.0 799.5 246.0 802.0 242.9 802.4 240.0 800.6 236.0 796.2 232.0 792.0 230.2 788.0 229.8ZM70.0 301.9L74.0 300.3 78.0 300.4 82.7 302.0 96.0 308.5 104.0 310.0 112.0 309.1 130.0 304.8 140.0 304.5 158.0 308.7 172.0 312.9 188.0 316.8 200.0 321.1 206.0 324.7 210.9 330.0 217.8 342.0 220.0 343.5 224.0 343.3 234.0 340.0 238.0 340.6 244.0 344.3 254.0 354.1 258.0 357.2 264.0 360.1 272.0 362.1 276.0 362.1 280.0 361.1 294.0 353.5 298.0 350.0 304.0 342.2 310.0 337.4 328.0 328.4 340.0 321.3 350.0 316.9 354.0 315.6 358.0 315.6 378.0 317.9 386.0 319.6 390.0 321.3 393.8 324.0 398.4 330.0 404.5 346.0 410.4 356.0 416.4 374.0 422.6 388.0 423.9 396.0 423.5 400.0 419.6 416.0 419.7 420.0 420.7 424.0 423.4 428.0 426.0 430.1 430.0 432.2 436.0 433.6 440.0 433.4 444.0 431.6 446.0 429.9 448.3 426.0 449.5 418.0 447.9 402.0 448.0 398.0 449.3 394.0 454.0 388.5 469.9 378.0 484.0 364.1 490.0 360.0 516.0 354.7 520.0 354.5 524.0 355.2 530.0 358.0 534.0 360.9 548.0 377.0 554.0 382.0 562.0 387.3 566.0 389.2 578.0 392.0 586.0 394.7 598.0 399.1 602.5 402.0 605.9 406.0 608.1 410.0 615.1 430.0 617.7 436.0 624.3 446.0 634.6 456.0 645.2 464.0 652.0 467.1 666.0 470.9 688.0 485.0 690.0 487.5 690.0 488.8 689.2 490.0 686.0 491.0 684.0 492.8 682.8 496.0 682.9 498.0 685.2 502.0 690.0 504.1 694.0 504.1 698.0 502.7 709.1 494.0 716.0 490.6 726.0 487.4 738.0 485.6 741.5 484.0 744.0 481.6 746.5 478.0 752.4 466.0 756.0 454.0 758.0 451.9 760.0 450.9 764.0 450.6 768.0 451.2 770.0 449.7 776.1 442.0 779.7 436.0 780.8 430.0 779.7 426.0 776.8 422.0 772.0 417.7 770.1 414.0 772.0 410.8 774.0 409.7 780.1 410.0 788.0 413.1 797.9 420.0 804.0 426.8 807.9 434.0 810.1 442.0 810.5 452.0 809.1 462.0 806.2 472.0 802.2 480.0 798.0 485.1 788.2 494.0 785.5 498.0 784.0 502.0 780.1 518.0 775.5 528.0 772.0 532.5 768.0 536.2 754.4 544.0 752.2 546.0 750.4 550.0 748.7 562.0 746.7 568.0 744.0 572.0 741.8 574.0 730.2 580.0 729.8 582.0 730.5 588.0 729.9 590.0 727.9 592.0 724.0 594.3 720.0 595.4 716.0 595.2 708.0 593.4 702.0 594.1 698.0 596.2 686.0 605.5 682.0 606.9 680.0 607.0 676.0 605.5 674.0 603.6 672.0 599.7 671.1 592.0 670.3 590.0 668.0 588.6 666.0 588.8 662.8 592.0 654.1 606.0 652.4 612.0 649.5 630.0 647.5 638.0 644.2 646.0 640.4 652.0 634.0 658.7 626.0 664.2 616.0 669.1 593.2 678.0 588.0 680.8 583.8 684.0 580.5 688.0 578.3 694.0 578.3 700.0 580.1 706.0 517.5 706.0 514.5 690.0 514.4 682.0 515.3 676.0 517.1 670.0 520.2 664.0 524.5 658.0 530.1 652.0 542.1 642.0 554.0 635.3 564.0 632.4 588.0 629.2 596.0 626.5 604.0 622.2 618.0 613.2 624.4 608.0 628.8 602.0 633.5 590.0 636.8 586.0 642.0 582.6 652.0 578.1 654.4 576.0 656.9 572.0 658.1 568.0 661.0 540.0 665.4 526.0 665.9 522.0 665.4 518.0 662.7 512.0 656.0 504.0 639.8 492.0 631.3 482.0 625.2 476.0 606.0 463.7 590.0 450.0 566.0 419.9 556.0 404.0 544.0 392.0 530.9 374.0 526.0 371.9 522.0 371.9 494.0 379.0 464.0 394.0 460.0 397.5 458.8 400.0 458.9 404.0 460.0 407.8 465.2 420.0 469.1 434.0 472.0 438.9 475.2 442.0 489.3 452.0 500.0 462.0 508.0 466.8 514.0 471.4 516.4 474.0 521.6 482.0 523.8 484.0 534.0 488.0 542.0 492.9 544.6 496.0 547.0 502.0 546.8 508.0 544.6 512.0 533.7 522.0 528.0 525.5 522.0 528.3 504.0 534.7 490.0 538.6 486.5 542.0 484.0 548.0 482.0 548.8 478.0 548.8 460.0 543.6 456.0 541.3 453.7 538.0 450.7 530.0 444.0 516.2 442.2 510.0 440.0 498.0 438.5 468.0 437.1 460.0 435.2 456.0 432.2 452.0 411.5 432.0 408.9 428.0 406.4 422.0 405.7 418.0 405.8 414.0 410.2 398.0 409.6 380.0 408.0 366.0 405.4 358.0 400.0 349.4 394.3 334.0 391.6 330.0 388.0 326.8 384.0 324.8 380.0 323.6 370.0 322.6 362.0 323.1 342.0 326.3 334.0 329.6 316.0 339.5 311.2 344.0 304.2 354.0 301.0 360.0 300.0 364.0 301.2 368.0 302.9 370.0 311.7 376.0 320.0 379.3 324.0 381.7 328.0 386.0 336.0 399.4 340.0 404.6 346.0 408.8 356.0 412.3 362.0 415.9 365.3 420.0 366.8 426.0 365.9 432.0 363.2 438.0 357.7 446.0 351.3 452.0 346.0 454.3 338.0 455.3 330.0 457.2 314.0 458.3 308.0 457.5 290.0 452.7 285.4 450.0 279.9 444.0 276.7 438.0 275.7 434.0 276.3 430.0 279.5 422.0 279.9 418.0 277.4 398.0 273.7 382.0 271.7 378.0 268.3 374.0 251.9 362.0 250.0 360.0 245.5 352.0 240.0 346.9 236.0 345.5 232.0 345.7 222.0 350.2 218.0 350.8 216.0 349.5 215.1 348.0 210.7 338.0 208.0 333.3 204.0 328.8 200.0 326.1 189.4 322.0 154.0 312.2 144.0 311.2 136.0 311.4 126.0 313.2 110.0 317.3 104.0 318.2 98.0 317.1 84.0 311.5 80.0 310.7 78.0 311.1 72.0 319.0 65.8 334.0 59.7 344.0 58.1 348.0 56.9 354.0 55.1 358.0 48.1 366.0 48.3 368.0 49.8 370.0 65.5 388.0 69.5 394.0 74.2 410.0 82.5 426.0 93.0 452.0 94.7 458.0 94.8 466.0 89.2 480.0 88.2 486.0 89.3 514.0 88.8 548.0 89.7 570.0 91.9 592.0 95.5 616.0 112.4 706.0 98.7 706.0 86.0 621.1 83.0 594.0 81.5 572.0 81.1 552.0 81.8 516.0 81.1 484.0 82.0 478.0 87.5 466.0 88.4 460.0 88.0 456.0 85.1 444.0 79.7 428.0 70.8 412.0 65.4 394.0 62.9 390.0 51.3 376.0 48.0 373.0 38.7 368.0 38.5 366.0 40.0 364.0 45.9 360.0 49.8 356.0 53.7 344.0 61.9 332.0 64.5 322.0 65.5 308.0 67.5 304.0 69.9 302.0ZM293.6 382.0L291.4 384.0 290.1 386.0 289.0 390.0 290.0 418.8 290.2 420.0 292.0 421.8 298.0 422.9 299.4 424.0 298.8 426.0 294.0 430.1 291.2 436.0 291.1 442.0 293.9 448.0 296.0 450.0 300.0 451.9 310.0 453.9 316.0 454.4 326.0 453.8 344.0 450.2 346.0 449.2 348.6 446.0 349.8 442.0 350.5 434.0 349.8 430.0 346.1 424.0 336.0 416.1 334.5 414.0 329.4 398.0 325.2 390.0 320.0 385.5 310.0 382.0 300.0 380.4 294.0 381.8ZM783.1 450.0L780.0 452.1 778.0 454.6 773.6 464.0 770.0 466.3 762.0 468.6 758.2 472.0 756.3 476.0 753.0 486.0 749.7 490.0 746.4 492.0 742.0 493.5 722.0 496.7 718.6 498.0 716.2 500.0 713.0 506.0 711.0 518.0 710.0 519.8 708.0 520.1 700.0 518.8 694.0 518.9 689.1 520.0 685.6 522.0 683.1 526.0 683.0 530.0 688.0 550.8 690.5 556.0 693.3 558.0 712.0 565.3 718.0 564.8 722.0 562.9 724.0 561.2 726.0 556.8 726.7 546.0 727.5 542.0 731.3 532.0 733.6 528.0 736.0 525.6 740.0 523.3 754.0 520.3 758.0 517.9 762.5 512.0 767.7 496.0 771.5 490.0 775.9 486.0 790.0 477.0 794.2 472.0 795.4 468.0 795.6 464.0 793.8 454.0 792.0 451.1 790.0 449.6 788.0 449.0 784.0 449.5ZM467.6 460.0L462.1 464.0 458.1 470.0 456.9 474.0 455.3 484.0 451.2 498.0 450.7 504.0 451.5 508.0 454.0 511.9 456.0 513.7 459.8 516.0 468.0 519.1 472.0 521.4 474.5 524.0 480.0 532.0 482.0 533.2 484.0 533.5 492.0 532.1 509.2 526.0 520.6 520.0 527.4 514.0 530.4 510.0 532.0 506.0 531.6 502.0 528.9 498.0 517.9 492.0 506.0 481.4 502.0 478.8 498.0 478.1 490.0 479.9 486.5 478.0 484.4 474.0 482.5 464.0 479.9 460.0 478.0 459.0 474.0 458.3 468.0 459.8ZM798.0 619.9L808.0 618.5 820.0 618.4 832.0 620.0 846.0 623.4 858.9 628.0 872.6 634.0 888.2 642.0 906.0 652.2 906.0 706.0 889.5 706.0 850.4 674.0 839.4 666.0 829.8 660.0 820.0 655.0 810.0 651.2 800.0 648.9 790.0 648.1 782.0 648.8 774.0 651.2 770.0 653.6 768.0 655.6 765.7 660.0 764.9 664.0 765.4 670.0 772.1 686.0 774.1 696.0 775.0 706.0 663.6 706.0 667.2 696.0 673.0 672.0 676.1 664.0 679.4 658.0 683.8 652.0 688.0 647.7 694.0 643.1 704.0 638.6 718.0 635.6 734.0 634.3 752.0 635.4 758.0 634.7 765.9 632.0 786.0 623.4 797.7 620.0Z"/><path fill="#8c645a" d="M788.0 229.8L792.0 230.2 796.2 232.0 800.6 236.0 802.4 240.0 802.0 242.9 799.5 246.0 793.3 250.0 788.0 251.8 786.0 251.6 782.0 249.8 778.9 246.0 777.6 242.0 777.9 238.0 779.8 234.0 782.0 231.9 786.6 230.0ZM78.0 311.1L80.0 310.7 84.0 311.5 98.0 317.1 104.0 318.2 110.0 317.3 126.0 313.2 136.0 311.4 144.0 311.2 154.0 312.2 189.4 322.0 200.0 326.1 204.0 328.8 208.0 333.3 210.7 338.0 215.1 348.0 216.0 349.5 218.0 350.8 222.0 350.2 232.0 345.7 236.0 345.5 240.0 346.9 245.5 352.0 250.0 360.0 251.9 362.0 268.3 374.0 271.7 378.0 273.7 382.0 277.4 398.0 279.9 418.0 279.5 422.0 276.3 430.0 275.7 434.0 276.7 438.0 279.9 444.0 285.4 450.0 290.0 452.7 308.0 457.5 314.0 458.3 330.0 457.2 338.0 455.3 346.0 454.3 351.3 452.0 357.7 446.0 363.2 438.0 365.9 432.0 366.8 426.0 365.3 420.0 362.0 415.9 356.0 412.3 346.0 408.8 340.0 404.6 336.0 399.4 328.0 386.0 324.0 381.7 320.0 379.3 311.7 376.0 302.9 370.0 301.2 368.0 300.0 364.0 301.0 360.0 304.2 354.0 311.2 344.0 316.0 339.5 334.0 329.6 342.0 326.3 362.0 323.1 370.0 322.6 380.0 323.6 384.0 324.8 388.0 326.8 391.6 330.0 394.3 334.0 400.0 349.4 405.4 358.0 408.0 366.0 409.6 380.0 410.2 398.0 405.8 414.0 405.7 418.0 406.4 422.0 408.9 428.0 411.5 432.0 432.2 452.0 435.2 456.0 437.1 460.0 438.5 468.0 440.0 498.0 442.2 510.0 444.0 516.2 450.7 530.0 453.7 538.0 456.0 541.3 460.0 543.6 478.0 548.8 482.0 548.8 484.0 548.0 486.5 542.0 490.0 538.6 504.0 534.7 522.0 528.3 528.0 525.5 533.7 522.0 544.6 512.0 546.8 508.0 547.0 502.0 544.6 496.0 542.0 492.9 534.0 488.0 523.8 484.0 521.6 482.0 516.4 474.0 514.0 471.4 508.0 466.8 500.0 462.0 489.3 452.0 475.2 442.0 472.0 438.9 469.1 434.0 465.2 420.0 460.0 407.8 458.9 404.0 458.8 400.0 460.0 397.5 464.0 394.0 492.0 379.8 498.0 377.7 520.0 372.3 524.0 371.8 528.0 372.4 532.0 375.1 544.0 392.0 556.0 404.0 566.0 419.9 590.0 450.0 606.0 463.7 625.2 476.0 631.3 482.0 639.8 492.0 656.0 504.0 662.0 511.0 665.4 518.0 665.8 524.0 661.0 540.0 658.4 566.0 656.9 572.0 654.4 576.0 652.1 578.0 642.0 582.6 636.0 586.7 633.5 590.0 629.8 600.0 626.0 606.2 620.0 611.8 604.3 622.0 596.0 626.5 588.0 629.2 564.0 632.4 554.0 635.3 542.1 642.0 530.1 652.0 524.5 658.0 520.2 664.0 517.1 670.0 515.3 676.0 514.4 682.0 514.5 690.0 517.5 706.0 470.0 706.0 466.1 682.0 465.0 666.0 466.2 656.0 470.1 646.0 474.0 640.2 478.8 636.0 514.0 613.1 526.0 607.2 556.5 596.0 560.3 594.0 564.0 590.7 565.6 588.0 566.7 584.0 566.4 576.0 560.6 552.0 557.8 546.0 555.6 544.0 552.0 542.2 546.0 541.0 536.0 542.1 513.9 546.0 510.6 548.0 509.2 550.0 508.3 554.0 507.9 562.0 506.0 567.2 502.0 570.2 496.0 571.6 492.0 571.5 488.0 570.5 478.0 565.9 472.0 563.9 454.0 561.8 448.0 560.3 440.0 555.2 436.9 552.0 434.3 548.0 430.2 538.0 424.9 516.0 417.2 492.0 414.0 485.6 410.0 479.8 406.0 475.6 402.0 472.6 396.0 470.2 390.0 469.9 380.0 463.3 376.0 461.7 370.0 460.5 358.0 461.1 330.0 468.6 300.0 473.5 296.0 472.7 283.5 468.0 274.0 465.2 269.0 462.0 258.0 449.6 256.0 445.3 254.4 438.0 254.0 434.0 254.4 430.0 255.9 426.0 261.9 416.0 263.1 412.0 263.5 408.0 262.0 400.0 255.5 384.0 250.0 376.9 244.0 372.9 232.4 370.0 224.0 364.7 210.0 362.9 206.0 361.4 204.9 360.0 204.4 358.0 205.5 348.0 205.0 344.0 202.0 339.3 198.0 336.1 192.0 333.3 174.0 328.1 154.0 324.2 146.0 324.7 136.0 328.0 130.0 332.0 128.8 334.0 128.8 336.0 137.6 356.0 138.4 362.0 137.2 368.0 134.0 373.1 128.0 378.0 120.0 381.3 112.0 382.5 106.0 381.5 102.0 379.5 96.0 374.1 92.0 368.6 88.8 362.0 83.4 346.0 83.1 344.0 84.4 338.0 84.4 334.0 83.4 332.0 82.0 330.9 80.0 331.2 79.0 334.0 78.6 344.0 72.0 352.5 67.4 360.0 61.6 366.0 60.4 368.0 60.3 370.0 62.9 374.0 74.0 383.9 77.2 388.0 88.9 418.0 96.0 438.5 100.0 442.9 108.7 448.0 111.1 452.0 111.9 458.0 111.4 464.0 103.6 502.0 104.0 514.0 103.5 540.0 105.1 560.0 108.0 577.9 112.2 596.0 132.5 666.0 143.0 706.0 112.4 706.0 95.5 616.0 91.9 592.0 89.7 570.0 88.8 548.0 89.3 514.0 88.2 486.0 89.2 480.0 94.8 466.0 94.7 458.0 93.0 452.0 82.5 426.0 74.2 410.0 69.5 394.0 65.5 388.0 49.8 370.0 48.3 368.0 48.1 366.0 54.0 359.4 56.2 356.0 58.8 346.0 65.8 334.0 72.0 319.0 76.9 312.0ZM347.9 334.0L342.0 335.1 338.0 336.6 328.8 342.0 323.7 346.0 322.0 350.0 321.9 354.0 323.0 358.0 325.7 364.0 332.0 374.2 338.6 388.0 341.8 392.0 344.0 393.7 350.0 395.6 360.0 393.8 372.0 395.2 378.1 394.0 382.0 391.5 386.6 386.0 390.6 378.0 392.0 372.0 391.6 366.0 386.0 344.5 384.2 340.0 380.5 336.0 374.0 333.7 366.0 333.1 348.0 334.0ZM784.0 449.5L788.0 449.0 790.0 449.6 792.0 451.1 793.8 454.0 795.6 464.0 795.4 468.0 794.2 472.0 790.0 477.0 775.9 486.0 771.5 490.0 767.7 496.0 762.5 512.0 758.0 517.9 754.0 520.3 740.0 523.3 736.0 525.6 733.6 528.0 731.3 532.0 727.5 542.0 726.7 546.0 726.0 556.8 724.0 561.2 722.0 562.9 718.0 564.8 712.0 565.3 693.3 558.0 690.5 556.0 688.0 550.8 683.0 530.0 683.1 526.0 685.6 522.0 689.1 520.0 694.0 518.9 700.0 518.8 708.0 520.1 710.0 519.8 711.0 518.0 713.0 506.0 716.2 500.0 718.6 498.0 722.0 496.7 742.0 493.5 746.4 492.0 749.7 490.0 753.0 486.0 756.3 476.0 758.2 472.0 762.0 468.6 770.0 466.3 773.6 464.0 778.0 454.6 780.0 452.1 783.1 450.0ZM778.0 649.7L788.0 648.2 800.0 648.9 812.0 651.8 824.0 656.9 836.3 664.0 847.8 672.0 889.5 706.0 775.0 706.0 774.1 696.0 772.6 688.0 770.8 682.0 765.9 672.0 764.9 664.0 765.7 660.0 768.0 655.6 772.0 652.2 777.1 650.0Z"/><path fill="#b48c82" d="M142.0 325.7L150.0 324.1 156.0 324.5 174.0 328.1 188.0 332.1 196.0 335.0 202.0 339.3 205.0 344.0 205.5 348.0 204.4 358.0 204.9 360.0 206.0 361.4 210.0 362.9 224.0 364.7 232.4 370.0 242.0 372.2 246.0 373.9 251.1 378.0 254.3 382.0 257.5 388.0 262.0 400.0 263.4 406.0 263.4 410.0 262.6 414.0 260.9 418.0 255.9 426.0 254.4 430.0 254.1 436.0 255.1 442.0 257.1 448.0 259.8 452.0 268.0 461.0 272.0 464.2 296.0 472.7 300.0 473.5 330.0 468.6 358.0 461.1 370.0 460.5 376.0 461.7 380.0 463.3 390.0 469.9 398.0 470.7 404.0 474.0 408.0 477.5 412.0 482.4 418.0 493.9 424.9 516.0 429.6 536.0 433.3 546.0 435.5 550.0 438.7 554.0 446.0 559.4 452.0 561.5 472.0 563.9 478.0 565.9 488.0 570.5 492.0 571.5 496.0 571.6 502.0 570.2 506.0 567.2 507.9 562.0 508.3 554.0 509.2 550.0 510.6 548.0 513.9 546.0 536.0 542.1 546.0 541.0 552.0 542.2 555.6 544.0 557.8 546.0 560.6 552.0 566.4 576.0 566.7 584.0 565.6 588.0 564.0 590.7 560.3 594.0 556.5 596.0 526.0 607.2 514.0 613.1 478.8 636.0 474.0 640.2 470.1 646.0 466.2 656.0 465.0 666.0 466.1 682.0 470.0 706.0 441.0 706.0 439.2 656.0 440.5 642.0 439.9 640.0 434.0 634.9 426.0 625.4 420.2 620.0 420.2 618.0 422.0 616.7 428.0 616.9 432.0 615.6 435.1 612.0 435.4 608.0 433.7 604.0 426.0 595.4 423.2 590.0 421.4 576.0 420.1 570.0 416.3 560.0 409.8 546.0 408.6 542.0 408.3 538.0 409.9 524.0 408.6 514.0 405.3 506.0 402.0 501.9 398.0 498.3 385.5 490.0 376.0 484.6 368.0 482.0 362.0 481.8 354.0 484.6 332.0 496.6 312.0 503.9 296.7 514.0 290.0 517.5 282.0 518.9 266.0 519.9 258.0 519.7 248.0 520.9 244.0 520.6 234.0 516.3 224.0 513.1 216.4 508.0 212.0 503.5 210.0 500.0 209.8 498.0 213.6 468.0 213.3 462.0 211.3 448.0 211.8 442.0 213.1 440.0 216.0 438.3 232.0 436.1 238.0 433.4 242.0 429.1 250.0 417.0 252.0 413.4 252.9 410.0 251.8 404.0 246.0 394.0 240.0 386.0 237.9 384.0 234.0 382.4 228.1 384.0 220.0 389.6 216.0 390.9 210.0 390.6 202.0 387.4 198.0 386.7 194.0 387.3 187.7 390.0 179.2 396.0 168.0 406.4 163.8 412.0 158.0 424.1 155.3 426.0 146.0 428.5 140.0 431.5 135.3 436.0 132.3 442.0 128.6 468.0 120.3 490.0 116.8 506.0 116.8 528.0 119.1 548.0 123.6 566.0 130.0 583.6 138.0 601.2 155.3 636.0 163.8 656.0 170.8 676.0 179.9 706.0 143.0 706.0 132.5 666.0 112.2 596.0 108.0 577.9 105.1 560.0 103.5 540.0 104.0 514.0 103.6 502.0 111.4 464.0 111.9 458.0 111.1 452.0 108.7 448.0 100.0 442.9 96.0 438.5 88.9 418.0 77.2 388.0 74.0 383.9 62.9 374.0 60.3 370.0 60.4 368.0 61.6 366.0 67.4 360.0 72.0 352.5 78.6 344.0 79.4 332.0 80.0 331.2 82.0 330.9 83.4 332.0 84.4 334.0 84.4 338.0 83.1 344.0 87.4 358.0 92.0 368.6 98.0 376.2 104.0 380.7 110.0 382.4 118.0 381.8 123.8 380.0 128.0 378.0 133.2 374.0 136.0 370.4 137.9 366.0 138.4 362.0 137.0 354.0 129.5 338.0 128.8 334.0 130.0 332.0 132.4 330.0 141.1 326.0ZM348.0 334.0L366.0 333.1 374.0 333.7 380.5 336.0 384.2 340.0 386.0 344.5 391.6 366.0 392.0 372.0 390.6 378.0 386.6 386.0 382.0 391.5 378.1 394.0 372.0 395.2 360.0 393.8 350.0 395.6 344.0 393.7 341.8 392.0 338.6 388.0 332.0 374.2 325.7 364.0 323.0 358.0 321.9 354.0 322.0 350.0 323.7 346.0 328.8 342.0 338.0 336.6 342.0 335.1 347.9 334.0ZM350.3 342.0L342.0 344.9 339.5 348.0 338.5 352.0 339.0 356.0 343.2 368.0 345.0 382.0 347.4 386.0 350.0 387.3 356.0 388.2 361.7 388.0 366.6 386.0 369.2 384.0 370.8 382.0 372.6 378.0 373.2 372.0 372.2 354.0 370.0 348.5 366.0 344.8 358.0 341.7 352.0 341.7ZM198.0 421.8L200.0 420.5 200.9 422.0 200.1 424.0 197.9 422.0Z"/><path fill="#e1beb4" d="M352.0 341.7L358.0 341.7 366.0 344.8 370.0 348.5 372.2 354.0 373.2 372.0 372.6 378.0 370.8 382.0 369.2 384.0 366.6 386.0 361.7 388.0 356.0 388.2 350.0 387.3 347.4 386.0 345.0 382.0 343.2 368.0 339.0 356.0 338.5 352.0 339.5 348.0 342.0 344.9 350.3 342.0ZM230.0 383.1L234.0 382.4 236.0 382.9 240.0 386.0 250.0 400.3 252.5 406.0 252.9 410.0 252.0 413.4 250.0 417.0 242.0 429.1 238.0 433.4 232.0 436.1 216.0 438.3 213.1 440.0 212.0 441.6 211.3 448.0 213.3 462.0 213.6 468.0 209.8 496.0 210.0 500.0 211.0 502.0 216.0 507.6 224.0 513.1 246.0 520.9 258.0 519.7 266.0 519.9 282.0 518.9 290.0 517.5 296.7 514.0 312.0 503.9 332.0 496.6 354.0 484.6 362.0 481.8 368.0 482.0 376.0 484.6 388.6 492.0 400.0 500.0 405.3 506.0 408.6 514.0 409.9 524.0 408.3 538.0 408.6 542.0 409.8 546.0 416.3 560.0 420.1 570.0 421.4 576.0 423.2 590.0 426.0 595.4 433.7 604.0 435.4 608.0 435.1 612.0 432.0 615.6 428.0 616.9 422.0 616.7 420.2 618.0 420.2 620.0 426.0 625.4 434.0 634.9 439.9 640.0 440.5 642.0 439.2 656.0 441.0 706.0 415.5 706.0 418.4 690.0 420.0 676.0 420.0 658.0 418.7 648.0 416.1 642.0 413.0 638.0 390.4 614.0 386.4 608.0 383.6 602.0 382.5 598.0 382.3 592.0 384.1 572.0 384.4 558.0 383.0 542.0 381.3 536.0 379.5 532.0 368.0 517.6 364.0 514.5 362.0 514.0 358.0 514.3 352.0 516.3 336.0 523.8 310.0 527.6 282.0 535.1 262.0 535.8 250.0 542.9 246.0 543.2 244.0 542.5 240.0 539.1 234.0 528.6 232.0 526.2 228.0 523.7 220.0 520.5 214.0 516.7 208.0 511.1 204.3 506.0 202.7 502.0 202.2 496.0 205.1 482.0 205.2 476.0 203.8 470.0 200.0 463.1 194.0 457.3 180.1 450.0 172.0 441.2 166.0 438.7 160.0 438.3 154.0 440.5 152.0 442.1 149.2 446.0 147.2 452.0 145.0 470.0 142.1 476.0 133.6 490.0 130.5 498.0 129.0 506.0 128.7 514.0 129.6 524.0 131.5 534.0 135.2 546.0 139.7 556.0 146.0 566.8 152.0 575.0 160.0 583.9 168.0 591.3 198.0 613.7 202.0 618.0 205.9 624.0 209.4 632.0 212.4 642.0 221.1 684.0 226.7 706.0 179.9 706.0 169.5 672.0 161.4 650.0 153.4 632.0 134.0 592.8 128.0 578.6 124.0 567.3 119.9 552.0 117.4 536.0 116.5 518.0 117.1 504.0 120.3 490.0 128.6 468.0 132.3 442.0 134.0 438.0 137.1 434.0 144.0 429.3 155.3 426.0 158.0 424.1 163.8 412.0 168.0 406.4 179.2 396.0 187.7 390.0 194.0 387.3 198.0 386.7 202.0 387.4 210.0 390.6 216.0 390.9 220.0 389.6 228.1 384.0ZM197.9 422.0L200.1 424.0 200.9 422.0 200.0 420.5 198.0 421.8Z"/><path fill="#f0dcd2" d="M156.0 439.4L162.0 438.3 166.0 438.7 170.0 440.0 174.0 442.9 180.1 450.0 194.0 457.3 199.1 462.0 202.9 468.0 205.2 476.0 205.1 482.0 202.2 496.0 202.7 502.0 204.3 506.0 208.0 511.1 214.0 516.7 220.0 520.5 228.0 523.7 232.0 526.2 234.0 528.6 240.0 539.1 244.0 542.5 246.0 543.2 250.0 542.9 262.0 535.8 282.0 535.1 310.0 527.6 336.0 523.8 352.0 516.3 358.0 514.3 362.0 514.0 364.0 514.5 368.0 517.6 379.5 532.0 381.3 536.0 383.0 542.0 384.4 558.0 384.1 572.0 382.3 592.0 382.5 598.0 383.6 602.0 386.4 608.0 390.4 614.0 413.0 638.0 416.1 642.0 418.7 648.0 420.0 658.0 420.0 676.0 418.4 690.0 415.5 706.0 382.0 706.0 390.0 692.2 395.0 680.0 402.0 654.0 402.7 650.0 402.3 646.0 400.1 642.0 398.0 639.9 380.0 628.0 373.1 622.0 367.1 614.0 360.0 600.0 356.0 595.2 350.0 591.4 346.0 590.3 342.0 590.0 338.0 590.6 334.3 592.0 328.6 596.0 320.0 606.3 306.0 618.7 300.0 625.0 293.4 634.0 288.1 644.0 285.1 652.0 283.0 660.0 281.9 668.0 281.7 676.0 282.4 684.0 283.9 692.0 289.0 706.0 226.7 706.0 221.1 684.0 212.4 642.0 209.4 632.0 205.9 624.0 202.0 618.0 196.1 612.0 170.0 592.9 162.0 585.9 154.0 577.4 146.0 566.8 140.0 556.7 135.2 546.0 132.0 536.0 129.9 526.0 128.8 516.0 128.8 508.0 130.0 500.0 133.6 490.0 142.1 476.0 145.0 470.0 146.8 454.0 148.3 448.0 150.4 444.0 154.8 440.0ZM172.5 476.0L166.0 478.2 160.0 482.8 153.5 490.0 144.4 502.0 143.4 506.0 143.2 512.0 144.0 519.0 145.8 526.0 149.4 534.0 154.0 540.7 160.0 546.8 168.0 552.5 176.0 556.1 184.0 558.1 192.0 558.3 200.0 556.7 208.0 552.9 216.0 546.5 220.6 540.0 221.0 536.0 219.9 534.0 208.0 523.6 198.6 512.0 195.4 506.0 194.1 502.0 193.5 496.0 194.2 490.0 196.4 482.0 196.4 480.0 195.4 478.0 192.0 475.4 188.0 474.5 174.0 475.8ZM351.3 544.0L348.1 548.0 347.6 552.0 348.4 554.0 350.2 556.0 354.0 557.6 358.0 557.2 360.0 556.1 362.0 553.8 363.2 550.0 363.1 548.0 362.0 545.1 360.0 543.1 358.0 542.3 356.0 542.1 352.0 543.5Z"/><path fill="#ffc8c8" d="M174.0 475.8L188.0 474.5 192.0 475.4 195.4 478.0 196.4 480.0 196.4 482.0 194.2 490.0 193.5 496.0 194.1 502.0 195.4 506.0 198.6 512.0 208.0 523.6 219.9 534.0 221.0 536.0 220.6 540.0 216.0 546.5 208.0 552.9 200.0 556.7 192.0 558.3 184.0 558.1 176.0 556.1 168.0 552.5 160.0 546.8 154.0 540.7 149.4 534.0 145.8 526.0 144.0 519.0 143.2 512.0 143.4 506.0 144.4 502.0 153.5 490.0 160.0 482.8 166.0 478.2 172.5 476.0ZM169.8 506.0L167.5 508.0 165.3 512.0 165.2 516.0 166.0 518.1 168.0 520.3 172.0 522.1 176.0 522.3 180.0 521.1 182.0 518.2 182.2 516.0 180.0 509.5 178.0 506.9 176.0 505.5 174.0 504.9 170.0 505.9ZM352.0 543.5L356.0 542.1 358.0 542.3 360.0 543.1 362.0 545.1 363.1 548.0 363.2 550.0 362.0 553.8 360.0 556.1 358.0 557.2 354.0 557.6 350.2 556.0 348.4 554.0 347.6 552.0 348.1 548.0 351.3 544.0ZM336.0 591.3L340.0 590.2 346.0 590.3 350.0 591.4 354.5 594.0 360.0 600.0 367.1 614.0 373.1 622.0 380.0 628.0 398.0 639.9 400.1 642.0 402.0 645.2 402.6 648.0 402.4 652.0 395.0 680.0 390.0 692.2 382.0 706.0 289.0 706.0 287.2 702.0 283.0 688.0 281.7 674.0 282.1 666.0 283.5 658.0 288.0 644.1 293.4 634.0 300.9 624.0 320.0 606.3 328.6 596.0 334.3 592.0Z"/><path fill="#f5a0a0" d="M170.0 505.9L174.0 504.9 176.0 505.5 178.0 506.9 180.0 509.5 182.2 516.0 182.0 518.2 180.0 521.1 176.0 522.3 172.0 522.1 168.0 520.3 166.0 518.1 165.2 516.0 165.3 512.0 167.5 508.0 169.8 506.0Z"/><path d="M20.0 164.5L23.2 150.0M20.0 268.7L24.1 250.0 25.9 238.0 26.4 226.0 26.3 198.0 27.5 182.0 30.3 166.0 34.9 150.0M20.0 289.1L26.4 276.0 34.8 244.0 36.1 232.0 35.9 202.0 37.0 186.0 40.8 168.0 47.6 150.0M20.0 449.9L23.5 430.0 24.4 416.0 23.3 400.0 22.2 396.0 20.0 392.5M20.0 305.8L21.5 300.0 24.0 294.0 33.8 280.0 37.5 264.0 44.4 246.0 45.9 234.0 45.6 202.0 47.2 186.0 49.0 178.0 52.0 169.5 56.0 160.9 62.2 150.0M20.0 484.9L23.6 468.0 28.8 436.0 29.9 422.0 28.6 394.0 26.4 390.0 20.0 385.4M20.0 329.2L23.7 318.0 25.3 306.0 26.7 300.0 30.2 294.0 34.0 290.4 40.4 286.0 41.9 284.0 42.7 280.0 42.9 272.0 44.0 266.9 46.3 262.0 52.5 252.0 53.9 248.0 55.8 230.0 56.0 198.0 57.1 190.0 59.3 182.0 62.0 175.5 66.0 168.8 80.8 150.0M20.0 514.8L30.0 472.0 35.4 428.0 33.6 404.0 34.3 392.0 34.0 388.9 32.0 386.7 24.0 383.2 20.0 380.6M903.4 150.0L903.7 164.0 902.4 178.0 899.9 190.0 894.0 208.1 892.0 216.0 886.4 262.0 888.0 268.0 890.7 272.0 896.0 276.9 906.0 284.5M20.0 341.9L29.1 320.0 29.8 316.0 30.1 306.0 31.5 300.0 34.0 296.3 36.0 294.5 44.7 290.0 48.0 286.0 50.4 280.0 50.1 272.0 58.0 257.8 60.0 253.2 65.7 234.0 66.5 226.0 67.3 200.0 68.9 192.0 71.0 186.0 76.0 178.0 80.0 174.7 90.0 168.3 94.0 164.3 98.0 158.2 101.8 150.0M20.0 553.4L27.3 514.0 37.9 470.0 38.6 464.0 39.0 448.0 41.1 432.0 37.2 402.0 38.8 390.0 38.6 386.0 37.3 384.0 26.0 380.6 20.0 376.4M208.0 199.4L204.0 201.5 202.0 203.3 198.8 208.0 196.9 214.0 197.1 220.0 200.0 225.5 204.0 228.6 210.0 230.3 216.0 229.8 222.0 227.4 225.9 224.0 228.1 220.0 228.7 214.0 226.0 207.9 220.7 202.0 216.0 199.3 210.0 198.9ZM529.2 150.0L558.0 167.3 572.0 176.7 585.3 188.0 600.0 203.7 604.0 206.7 606.0 207.4 608.0 207.3 610.0 205.6 612.0 198.0 611.9 166.0 612.6 150.0M881.5 150.0L884.2 168.0 884.2 184.0 882.3 194.0 876.9 210.0 876.7 232.0 874.3 246.0 870.2 262.0 870.3 274.0 871.5 278.0 874.4 282.0 892.3 296.0 906.0 308.9M20.0 351.3L26.2 340.0 33.5 324.0 34.9 316.0 34.4 306.0 36.0 300.0 40.0 296.1 48.0 291.4 59.3 282.0 62.8 278.0 63.8 274.0 64.1 266.0 66.4 252.0 68.0 249.8 70.0 249.2 74.0 251.5 76.0 250.7 76.2 250.0 79.0 218.0 80.0 211.7 81.8 206.0 86.0 199.6 98.0 191.6 100.0 189.9 102.0 187.0 112.0 168.0 117.5 150.0M20.0 622.5L24.7 576.0 31.4 530.0 36.9 502.0 46.2 470.0 47.5 462.0 45.4 448.0 45.8 442.0 47.2 434.0 40.6 402.0 41.9 388.0 41.1 384.0 39.8 382.0 30.0 379.4 26.0 377.5 22.0 374.3 20.0 371.6M212.0 185.9L208.0 186.8 204.0 188.7 200.0 191.9 196.5 196.0 194.0 200.0 191.5 206.0 189.7 216.0 190.0 220.9 191.3 226.0 194.5 232.0 200.0 236.0 204.0 237.3 210.0 238.1 220.0 237.2 229.2 234.0 234.7 230.0 236.1 228.0 237.3 224.0 236.1 210.0 234.0 203.7 231.2 198.0 228.0 193.4 224.0 189.5 220.0 187.2 214.0 185.8ZM318.0 201.4L316.6 202.0 318.0 204.0 319.2 202.0ZM366.0 214.0L360.0 215.0 354.0 219.1 350.8 224.0 349.5 230.0 350.1 236.0 351.8 244.0 351.5 254.0 352.4 260.0 354.0 263.4 356.3 266.0 360.0 268.0 362.0 268.3 368.0 266.9 376.0 260.6 382.4 252.0 384.2 248.0 385.1 244.0 385.0 240.0 384.0 235.4 378.0 221.9 374.9 218.0 372.0 215.6 366.0 214.0M310.7 150.0L298.0 170.7 285.2 198.0 280.6 206.0 272.0 216.3 268.0 219.2 262.0 221.4 258.0 221.4 254.0 219.9 250.0 216.8 248.0 214.3 244.2 206.0 238.0 185.1 234.2 178.0 230.0 173.1 224.0 169.2 218.0 167.8 214.0 168.0 210.0 169.0 204.0 172.3 198.0 177.9 193.5 184.0 189.2 192.0 185.7 202.0 183.8 212.0 183.3 222.0 184.2 230.0 186.7 236.0 190.0 239.5 194.0 242.1 200.0 244.2 206.0 245.1 218.0 244.7 242.0 241.4 250.0 242.5 260.0 246.1 264.0 245.9 276.0 243.1 284.0 242.5 302.0 243.3 312.0 245.1 319.3 248.0 324.6 252.0 328.0 256.0 337.0 270.0 343.1 276.0 350.2 280.0 358.0 283.1 362.0 283.7 364.0 283.3 382.1 270.0 386.0 266.4 393.2 256.0 397.0 248.0 398.3 242.0 398.3 238.0 394.0 226.0 393.1 218.0 396.0 189.2 397.8 182.0 400.0 177.2 402.2 174.0 406.0 170.3 414.0 166.0 424.0 164.0 436.0 164.5 448.0 167.0 460.0 171.0 516.6 194.0 546.0 203.7 556.0 208.6 562.0 212.9 568.0 218.4 586.0 240.4 610.0 258.0 614.5 264.0 621.2 278.0 626.2 284.0 636.0 291.6 642.0 294.8 650.0 297.0 658.0 297.0 661.4 296.0 664.0 294.5 667.9 290.0 669.9 284.0 670.4 278.0 668.7 264.0 659.3 230.0 655.1 206.0 653.7 190.0 653.4 176.0 654.0 162.0 655.5 150.0M859.4 150.0L864.9 172.0 867.6 186.0 868.0 192.0 865.3 204.0 865.9 224.0 864.5 248.0 862.7 264.0 859.8 274.0 857.4 278.0 851.9 284.0 851.1 288.0 852.0 290.4 854.0 292.1 866.0 294.2 870.0 296.1 874.8 300.0 882.6 310.0 895.1 332.0 906.0 345.4M26.6 706.0L27.5 658.0 29.5 616.0 32.6 578.0 37.1 540.0 41.2 514.0 45.6 494.0 51.1 478.0 60.0 460.9 61.5 454.0 60.0 449.1 54.0 446.0 52.1 442.0 53.1 434.0 48.0 420.0 43.9 402.0 44.4 390.0 43.2 384.0 42.2 382.0 40.0 380.1 30.0 377.1 25.3 374.0 23.5 372.0 21.4 368.0 20.6 364.0 20.8 360.0 22.8 354.0 30.0 342.3 37.3 328.0 39.0 320.0 38.5 306.0 39.4 302.0 42.7 298.0 56.0 289.1 68.0 283.4 71.1 280.0 72.1 276.0 72.3 268.0 73.0 264.0 75.3 260.0 80.6 254.0 84.9 246.0 86.6 240.0 89.6 222.0 92.4 214.0 96.0 208.0 106.0 195.8 120.3 176.0 125.4 160.0 129.9 150.0M820.0 315.7L804.0 321.9 801.9 324.0 803.0 330.0 806.9 336.0 818.0 346.4 824.0 348.9 830.0 349.3 836.0 348.5 842.0 346.2 845.2 344.0 848.6 340.0 850.2 334.0 849.1 328.0 845.7 322.0 842.0 318.2 838.0 316.0 826.0 314.3 822.0 315.0ZM187.4 150.0L188.3 156.0 187.9 162.0 179.6 198.0 177.1 218.0 176.6 228.0 178.0 236.0 180.9 242.0 186.0 247.4 192.0 250.6 198.0 252.0 206.0 252.5 230.0 250.7 238.0 250.8 244.0 251.9 256.0 256.3 262.0 257.2 284.0 253.4 292.0 253.2 298.0 253.9 304.0 256.4 310.0 260.5 316.0 266.2 326.1 278.0 333.6 284.0 338.0 285.7 352.0 288.2 360.0 290.7 366.0 291.1 370.0 290.2 373.7 288.0 385.1 278.0 393.9 272.0 395.4 270.0 405.0 254.0 408.6 246.0 411.2 238.0 412.8 226.0 414.3 222.0 419.4 214.0 424.0 209.7 430.0 206.7 438.0 205.7 444.0 206.4 458.0 209.2 482.0 212.1 494.0 215.4 516.0 223.7 522.0 224.3 534.0 223.3 540.0 223.4 548.0 225.1 554.0 228.0 560.0 232.4 575.9 248.0 580.0 250.8 590.0 255.8 598.1 264.0 602.3 270.0 610.0 284.7 616.0 294.6 627.0 306.0 637.0 318.0 642.0 331.0 644.0 334.1 646.0 334.6 650.0 333.8 658.0 335.0 682.0 344.6 688.0 346.0 694.0 346.3 717.4 342.0 718.8 340.0 718.9 332.0 718.0 324.0 716.0 318.6 701.6 298.0 694.7 284.0 686.4 258.0 679.6 230.0 676.8 208.0 676.7 188.0 679.1 168.0 684.1 150.0M838.4 150.0L842.3 160.0 845.1 170.0 849.3 198.0 853.7 206.0 855.4 212.0 856.0 218.0 855.6 232.0 858.0 254.0 857.0 264.0 854.0 271.0 847.3 280.0 836.0 290.4 826.0 297.6 814.6 308.0 810.0 310.7 806.0 311.9 800.0 312.9 790.0 313.3 787.7 314.0 784.7 316.0 783.5 318.0 783.2 322.0 784.5 326.0 789.4 336.0 790.0 340.0 790.0 350.0 791.9 354.0 795.6 358.0 802.0 362.0 806.0 363.1 838.0 364.8 864.0 365.0 876.0 366.9 882.0 369.0 890.0 373.1 906.0 384.8M37.9 706.0L37.6 658.0 38.5 616.0 40.7 578.0 44.2 542.0 47.9 514.0 51.4 496.0 56.1 482.0 65.4 464.0 66.3 460.0 66.3 456.0 65.0 448.0 64.0 445.7 58.0 439.4 55.9 430.0 50.0 414.4 47.1 400.0 46.5 388.0 45.2 384.0 42.0 379.6 32.0 375.8 26.6 372.0 25.2 370.0 23.8 366.0 24.0 360.4 26.0 355.3 32.3 346.0 41.6 328.0 43.1 320.0 42.5 308.0 43.6 302.0 46.0 299.3 56.0 292.5 62.0 289.6 71.6 286.0 76.2 282.0 78.0 278.0 78.5 268.0 79.5 264.0 82.0 260.0 89.5 252.0 92.0 248.0 98.2 224.0 102.3 214.0 124.0 181.0 130.0 168.7 134.0 162.0 140.0 154.4 144.6 150.0M817.5 150.0L823.2 158.0 828.0 166.4 832.0 175.1 839.3 194.0 846.4 208.0 847.5 216.0 847.5 232.0 852.4 256.0 852.2 262.0 849.0 268.0 844.0 273.0 826.0 284.8 812.7 292.0 811.3 294.0 808.7 302.0 806.1 304.0 799.6 306.0 792.0 307.3 788.0 307.1 782.0 305.2 780.0 305.4 778.0 306.3 773.6 310.0 770.3 316.0 769.4 322.0 770.7 350.0 771.6 356.0 773.5 360.0 775.2 362.0 778.0 364.3 782.0 366.2 836.0 377.4 852.0 382.2 865.6 388.0 875.6 394.0 885.8 402.0 896.0 412.0 906.0 423.7M49.3 706.0L47.9 662.0 47.5 622.0 48.4 588.0 50.5 554.0 54.3 516.0 57.5 496.0 61.9 482.0 70.6 464.0 71.0 460.0 70.1 452.0 70.1 446.0 71.3 436.0 70.0 433.2 68.0 433.1 66.0 436.1 64.0 437.7 62.0 437.0 61.2 436.0 58.9 426.0 54.0 415.6 52.0 410.0 49.3 390.0 47.2 384.0 44.6 380.0 42.2 378.0 34.0 374.8 29.6 372.0 27.0 368.0 26.7 362.0 28.2 358.0 35.0 348.0 45.7 328.0 47.1 320.0 46.5 308.0 48.0 302.6 52.7 298.0 58.0 294.5 76.0 287.3 80.0 284.9 82.8 282.0 84.8 276.0 84.8 266.0 86.0 263.8 94.0 257.4 98.0 252.3 105.5 226.0 111.5 212.0 118.2 200.0 134.0 175.1 142.0 166.8 148.0 162.9 152.0 161.2 156.0 160.4 160.0 160.5 164.0 161.7 167.4 164.0 171.3 170.0 172.8 176.0 173.1 184.0 171.9 210.0 169.8 234.0 172.0 241.8 174.6 248.0 178.0 253.4 182.0 257.3 188.0 260.1 196.0 261.2 230.0 259.0 238.0 259.2 244.0 261.0 254.0 266.2 260.0 267.4 264.0 267.0 280.0 263.4 289.2 264.0 294.5 266.0 300.0 269.6 320.0 289.3 326.0 293.6 330.0 295.0 336.0 295.3 346.0 293.0 350.0 292.6 354.0 292.9 370.0 296.4 374.0 295.9 379.0 294.0 384.6 290.0 392.0 281.8 400.7 276.0 415.6 254.0 420.0 249.0 434.0 235.9 438.0 233.2 442.0 231.7 450.0 231.3 486.0 235.8 502.0 241.7 512.0 243.7 520.0 243.5 538.0 239.7 546.0 240.0 552.0 243.2 566.0 253.9 570.0 255.5 584.0 258.9 586.0 260.2 589.2 264.0 590.9 268.0 593.2 278.0 594.7 282.0 611.7 314.0 612.7 322.0 611.3 336.0 612.0 339.8 614.0 341.7 618.0 343.4 630.0 346.3 634.0 349.1 642.0 357.7 646.0 359.6 658.8 362.0 688.0 373.9 700.0 375.7 708.0 374.0 714.0 371.4 728.0 357.5 730.5 354.0 732.0 350.3 733.0 340.0 733.1 320.0 732.3 316.0 728.0 307.8 713.8 286.0 706.9 272.0 703.2 262.0 699.6 250.0 696.9 238.0 695.1 226.0 694.3 214.0 694.4 204.0 695.2 194.0 696.9 184.0 699.5 174.0 702.5 166.0 706.3 158.0 711.3 150.0M786.8 150.0L794.0 153.5 800.0 157.4 806.0 162.3 812.0 168.3 822.0 181.6 835.5 204.0 838.0 209.3 839.3 214.0 841.3 232.0 847.1 256.0 847.1 260.0 846.0 262.1 842.0 265.7 826.0 275.8 809.0 284.0 798.0 290.7 792.0 292.5 787.6 296.0 780.0 297.7 770.0 301.9 766.0 301.3 763.5 302.0 761.5 304.0 759.5 308.0 756.0 323.3 754.0 328.7 752.0 331.9 750.0 333.2 748.0 332.4 744.0 326.6 742.0 320.5 740.5 310.0 738.5 304.0 734.7 296.0 723.3 276.0 717.2 262.0 714.0 252.0 711.7 242.0 710.3 232.0 709.7 222.0 710.1 210.0 712.0 198.0 715.5 186.0 720.0 176.2 725.3 168.0 732.0 160.4 740.0 154.1 747.8 150.0M61.0 706.0L58.5 664.0 57.0 626.0 56.7 594.0 57.6 564.0 60.7 518.0 63.3 496.0 67.0 482.0 75.2 464.0 75.4 458.0 74.0 438.0 73.3 434.0 72.0 431.2 64.0 424.8 56.5 412.0 55.4 408.0 54.1 396.0 49.4 384.0 46.7 380.0 44.0 377.4 34.0 373.0 32.0 371.5 29.6 368.0 29.2 364.0 30.6 360.0 36.6 352.0 41.7 342.0 49.1 330.0 50.8 324.0 50.7 308.0 51.9 304.0 55.0 300.0 60.6 296.0 66.0 293.6 86.0 287.2 91.3 284.0 95.0 280.0 100.0 270.0 102.8 262.0 105.1 252.0 108.8 242.0 114.0 224.0 122.8 204.0 128.0 195.6 138.0 183.3 144.0 178.5 150.0 176.0 154.0 175.8 158.0 177.4 160.5 180.0 162.2 184.0 163.1 198.0 164.9 210.0 164.3 224.0 165.4 244.0 168.9 264.0 172.0 274.4 174.0 278.8 176.0 280.8 178.0 281.2 195.6 276.0 202.0 275.1 210.4 276.0 218.0 278.0 220.0 280.0 220.0 282.0 215.3 292.0 215.3 296.0 218.1 300.0 228.1 308.0 230.0 310.1 234.0 317.1 238.0 320.4 246.0 321.9 254.0 321.3 264.0 318.0 270.0 313.1 278.8 302.0 280.8 298.0 279.9 294.0 275.8 286.0 275.0 282.0 276.1 278.0 277.9 276.0 280.0 275.2 284.0 276.3 288.0 280.6 290.1 286.0 290.9 298.0 293.1 302.0 298.0 308.3 300.0 309.6 302.0 308.6 303.9 302.0 306.0 300.3 308.0 299.8 310.0 300.1 313.8 302.0 318.6 308.0 320.0 309.2 322.0 309.2 338.0 302.5 346.0 298.0 350.0 296.6 356.0 296.4 370.0 301.0 376.0 301.4 386.0 299.8 404.0 294.0 410.4 290.0 417.2 284.0 423.8 270.0 429.8 262.0 438.0 254.9 444.0 252.0 448.0 252.7 450.7 254.0 462.5 264.0 468.0 265.7 474.0 266.4 480.0 266.4 496.0 263.2 516.0 263.4 534.0 259.9 542.0 259.9 546.0 261.5 548.8 264.0 551.5 268.0 556.6 278.0 562.0 283.4 568.0 286.2 578.0 288.0 582.0 290.1 584.4 294.0 590.4 308.0 598.0 322.2 599.8 328.0 601.3 340.0 602.9 344.0 605.7 348.0 612.0 353.1 626.0 360.3 639.2 372.0 644.0 375.0 652.0 377.3 664.0 381.9 672.0 381.2 686.0 384.7 706.0 386.0 714.0 385.8 722.0 384.2 726.0 382.8 730.0 379.3 738.0 369.8 744.0 366.3 748.0 365.8 752.0 367.6 760.0 372.8 768.0 375.8 776.0 376.9 798.0 376.9 812.0 379.9 827.6 386.0 842.5 394.0 851.2 400.0 860.4 408.0 867.6 416.0 873.6 424.0 882.9 440.0 898.0 472.5 906.0 487.0M580.0 264.0L580.0 264.0 580.0 264.0 580.0 264.0ZM432.0 345.2L430.0 346.1 429.4 348.0 429.6 354.0 432.0 359.4 434.0 360.8 436.0 361.0 438.0 360.3 440.5 358.0 442.0 354.4 442.2 352.0 441.9 350.0 440.0 346.8 438.0 345.6 434.0 345.0ZM728.0 393.7L724.0 394.8 720.0 398.1 711.6 408.0 709.5 412.0 709.4 418.0 710.5 422.0 712.7 426.0 720.8 436.0 721.8 440.0 721.1 442.0 719.3 444.0 704.6 456.0 704.7 458.0 706.0 460.0 710.0 463.6 712.0 464.2 716.0 462.6 722.2 458.0 725.9 452.0 728.5 442.0 740.0 430.1 746.0 426.2 747.3 424.0 747.7 420.0 746.9 416.0 744.9 410.0 742.0 404.4 736.0 397.0 730.0 393.9ZM73.1 706.0L69.1 662.0 66.5 624.0 65.3 594.0 65.4 566.0 69.0 496.0 71.7 482.0 77.8 468.0 79.0 464.0 79.5 458.0 79.0 452.0 77.5 442.0 75.1 432.0 73.1 428.0 66.3 420.0 62.8 414.0 60.3 408.0 58.8 398.0 56.5 392.0 51.8 384.0 47.3 378.0 44.0 375.4 36.0 372.2 33.2 370.0 32.1 368.0 32.0 364.0 34.0 360.3 39.8 354.0 44.4 344.0 53.5 330.0 55.2 322.0 55.1 308.0 56.5 304.0 59.9 300.0 66.8 296.0 78.0 293.2 88.0 292.8 100.0 294.8 104.0 294.1 110.9 290.0 116.6 284.0 118.9 280.0 120.5 274.0 118.6 242.0 119.3 234.0 121.2 226.0 127.8 210.0 132.0 202.6 134.0 200.0 138.0 196.7 144.0 194.0 146.0 193.9 148.0 194.6 150.0 197.2 155.8 216.0 157.3 224.0 158.0 238.0 157.5 252.0 156.3 260.0 152.7 274.0 151.9 280.0 152.7 286.0 155.8 292.0 159.8 296.0 170.1 302.0 176.0 303.7 188.0 304.7 194.0 306.5 203.3 312.0 214.0 316.5 226.0 326.5 230.0 328.1 242.0 330.7 254.0 337.4 258.0 338.8 264.0 339.8 270.0 339.9 278.0 338.4 282.0 336.5 284.0 334.5 285.4 332.0 288.2 322.0 289.5 320.0 292.0 318.4 294.0 318.2 300.0 321.4 306.0 323.2 314.0 323.9 320.0 323.0 325.2 320.0 334.0 312.1 347.7 302.0 354.0 299.5 358.0 299.8 368.0 305.3 374.0 306.7 396.0 307.4 418.0 309.3 419.5 310.0 415.1 316.0 413.2 324.0 412.7 334.0 413.7 342.0 416.0 346.6 422.7 352.0 424.9 362.0 426.0 365.0 428.0 367.9 430.0 369.4 434.0 371.1 440.0 371.2 446.0 368.4 450.0 363.8 456.6 350.0 461.6 334.0 462.0 330.0 461.5 326.0 455.9 306.0 456.2 300.0 458.2 296.0 462.0 292.6 466.8 290.0 494.0 281.5 500.0 280.9 506.0 281.2 514.0 282.2 519.7 284.0 520.7 286.0 520.3 288.0 516.0 298.0 515.2 306.0 516.8 312.0 520.6 316.0 528.0 320.0 542.0 325.1 560.0 333.1 566.0 335.0 580.0 338.2 584.0 339.9 588.0 342.9 599.5 356.0 608.0 363.2 624.0 372.5 638.0 384.6 642.0 386.7 650.0 389.0 650.8 390.0 651.2 394.0 652.8 398.0 658.0 402.8 662.0 403.6 670.0 401.7 672.0 402.4 676.8 406.0 680.0 407.3 690.0 408.4 694.3 410.0 695.4 412.0 695.4 414.0 694.0 418.2 692.0 419.7 690.0 419.6 688.0 418.3 686.0 418.1 684.0 419.1 681.7 422.0 678.4 430.0 678.8 436.0 680.0 438.6 682.7 442.0 691.2 448.0 693.0 450.0 694.6 454.0 694.6 460.0 696.5 462.0 703.4 466.0 708.0 471.9 710.0 473.3 712.0 473.5 714.0 472.7 718.3 468.0 722.0 465.9 728.0 464.8 736.0 465.1 739.3 464.0 740.8 462.0 742.8 452.0 744.8 448.0 748.6 444.0 756.0 439.0 758.6 436.0 761.0 430.0 760.8 424.0 759.9 420.0 755.6 410.0 754.0 402.0 755.1 396.0 758.0 392.6 762.0 390.7 782.0 385.6 790.0 384.2 800.0 384.0 808.0 386.6 820.4 394.0 828.2 400.0 834.6 406.0 844.5 418.0 851.0 430.0 855.2 442.0 857.8 456.0 858.6 468.0 858.8 494.0 859.7 504.0 862.3 514.0 866.0 522.0 871.8 530.0 879.9 538.0 890.4 546.0 906.0 555.9M766.0 167.8L772.0 167.4 778.0 167.9 784.0 169.3 790.0 171.5 796.0 174.6 802.0 178.7 814.0 189.9 824.0 202.6 830.0 213.2 838.6 244.0 840.1 252.0 839.8 256.0 837.2 260.0 824.0 269.5 796.0 282.2 776.0 289.3 770.0 290.5 756.0 290.0 752.0 289.3 748.0 287.3 742.0 281.4 734.6 270.0 729.3 258.0 726.0 246.0 724.2 232.0 724.4 220.0 726.0 209.5 729.7 198.0 734.0 189.6 740.0 181.6 748.0 174.7 756.0 170.4 764.4 168.0ZM702.0 402.9L702.5 404.0 702.0 404.3 701.5 404.0ZM314.0 436.0L311.7 438.0 310.7 440.0 310.7 442.0 312.0 444.0 315.5 446.0 318.0 446.5 322.0 446.1 326.0 444.0 327.8 442.0 328.6 440.0 328.3 438.0 326.0 435.6 322.0 434.4 316.0 435.0ZM488.0 497.9L484.0 499.7 481.8 502.0 480.5 506.0 481.5 510.0 484.4 514.0 488.0 516.4 492.0 517.2 496.0 516.4 499.6 514.0 501.1 512.0 502.1 508.0 501.1 504.0 498.1 500.0 496.0 498.6 492.0 497.5 488.0 497.9M85.6 706.0L76.3 624.0 74.2 596.0 73.3 570.0 75.1 490.0 76.8 480.0 81.9 468.0 83.0 464.0 83.6 458.0 83.0 452.0 80.8 442.0 77.2 430.0 75.3 426.0 67.6 414.0 61.5 394.0 50.0 378.0 45.1 374.0 36.1 370.0 34.7 368.0 34.5 366.0 36.7 362.0 43.7 356.0 48.6 344.0 55.9 334.0 58.1 330.0 59.6 322.0 59.5 310.0 61.3 304.0 62.8 302.0 66.0 299.5 70.0 297.8 76.0 296.5 84.0 297.2 98.0 302.9 102.0 303.5 110.0 302.1 124.0 296.7 132.0 294.5 136.0 294.0 140.0 294.6 154.0 302.1 172.0 308.2 190.0 312.2 206.0 319.0 212.6 324.0 220.0 333.8 222.0 335.4 224.0 335.9 234.0 334.6 238.0 335.2 242.0 337.1 250.0 343.3 258.0 348.3 264.0 350.6 270.0 351.5 280.0 350.5 292.0 346.8 294.0 345.3 298.5 338.0 302.5 334.0 308.0 331.4 320.0 327.9 326.0 325.0 343.6 312.0 352.0 304.9 356.0 303.3 358.1 304.0 361.3 308.0 365.2 310.0 372.0 311.7 390.0 314.4 396.0 316.8 400.0 320.0 404.0 326.6 409.0 344.0 416.8 356.0 420.0 366.0 422.0 370.3 424.0 373.2 428.0 376.8 434.0 380.4 438.0 381.7 442.0 381.6 448.0 379.4 453.7 376.0 458.8 372.0 463.6 366.0 480.0 338.9 492.0 329.7 496.0 328.4 499.5 330.0 499.2 332.0 497.0 334.0 496.3 336.0 498.0 338.7 500.0 339.7 506.0 336.4 512.0 335.7 520.0 336.4 528.0 338.9 534.0 342.1 539.3 346.0 544.0 350.4 556.0 363.7 564.0 368.7 570.0 370.0 584.0 364.5 588.0 364.5 591.7 366.0 595.4 370.0 600.0 379.9 604.0 381.4 614.0 382.7 618.0 384.3 622.0 388.5 630.8 402.0 636.0 406.7 642.0 408.4 650.0 408.0 656.0 414.5 658.0 415.3 662.0 415.0 670.0 412.2 672.0 412.2 679.8 414.0 679.0 416.0 666.8 424.0 662.6 428.0 661.8 432.0 662.8 436.0 668.0 444.0 678.0 452.4 681.1 456.0 682.0 458.0 683.1 466.0 685.8 470.0 690.0 471.8 694.0 471.4 698.0 469.9 700.0 470.6 700.6 474.0 700.2 480.0 702.0 482.0 706.0 483.3 710.0 483.2 714.4 482.0 718.0 480.2 724.0 475.8 734.0 476.2 738.0 475.4 742.0 472.9 744.0 470.7 747.1 466.0 749.8 454.0 752.0 450.0 756.0 446.5 765.8 440.0 769.5 434.0 770.0 430.0 769.5 428.0 764.9 418.0 763.2 412.0 763.5 406.0 766.0 402.1 772.0 399.2 786.0 394.8 794.0 393.9 800.0 395.0 805.1 398.0 812.0 404.0 817.6 410.0 822.1 416.0 825.6 422.0 829.0 430.0 830.7 436.0 831.8 444.0 831.4 456.0 828.2 470.0 823.6 482.0 812.7 504.0 808.9 516.0 806.9 530.0 806.1 544.0 806.8 554.0 808.7 560.0 811.1 564.0 814.0 567.0 822.0 572.0 831.8 576.0 874.0 590.8 906.0 604.7M768.0 187.8L774.0 186.9 780.0 187.0 786.0 188.1 792.0 190.2 798.0 193.2 804.0 197.2 810.0 202.4 816.0 208.8 820.0 214.3 824.0 221.6 832.2 244.0 833.1 250.0 832.6 254.0 831.7 256.0 828.0 259.8 820.0 264.6 808.0 268.5 796.0 274.4 788.0 276.9 774.0 279.9 768.0 279.5 760.0 276.8 754.0 272.8 750.0 268.7 746.7 264.0 743.6 258.0 739.8 246.0 738.5 232.0 739.9 220.0 744.0 208.2 750.0 199.1 758.0 192.2 767.4 188.0ZM138.0 215.4L140.0 215.0 142.0 215.3 146.0 218.5 148.7 224.0 149.5 230.0 148.7 242.0 147.1 250.0 144.0 256.1 142.0 257.7 140.0 258.4 138.0 258.3 136.0 257.1 133.5 254.0 130.6 246.0 129.2 238.0 129.3 232.0 130.5 226.0 134.0 218.9 137.1 216.0ZM310.0 390.0L306.0 391.2 303.6 394.0 302.8 400.0 303.4 406.0 306.0 410.7 314.9 418.0 316.3 420.0 313.9 424.0 302.0 436.4 300.0 440.0 299.7 444.0 300.5 446.0 302.0 447.3 310.0 449.7 318.0 450.8 324.9 450.0 331.1 448.0 338.8 444.0 340.2 442.0 340.7 440.0 340.3 436.0 338.4 432.0 334.2 428.0 320.0 420.0 319.5 418.0 322.0 412.1 323.7 404.0 323.6 400.0 322.6 396.0 320.0 392.5 318.0 391.3 314.0 390.1 310.0 390.0M490.0 487.8L484.0 488.9 478.0 491.6 468.5 500.0 466.6 504.0 466.7 506.0 467.7 508.0 482.0 521.5 486.0 524.1 492.0 525.0 500.0 523.0 506.0 519.9 511.5 514.0 513.2 508.0 513.1 506.0 511.5 502.0 504.0 492.8 498.0 489.2 490.0 487.8M98.7 706.0L86.0 621.1 83.0 594.0 81.5 572.0 81.1 552.0 81.8 516.0 81.1 484.0 82.0 478.0 87.5 466.0 88.4 460.0 88.0 456.0 85.1 444.0 79.7 428.0 70.8 412.0 65.4 394.0 62.9 390.0 51.3 376.0 48.0 373.0 38.7 368.0 38.5 366.0 40.0 364.0 45.9 360.0 49.8 356.0 53.7 344.0 61.9 332.0 64.2 324.0 65.2 310.0 66.2 306.0 67.5 304.0 69.9 302.0 76.0 300.1 82.0 301.7 94.0 307.8 100.0 309.5 108.0 309.8 130.0 304.8 140.0 304.5 158.0 308.7 190.0 317.4 200.0 321.1 206.0 324.7 210.9 330.0 217.8 342.0 220.0 343.5 224.0 343.3 234.0 340.0 238.0 340.6 244.0 344.3 254.0 354.1 258.0 357.2 264.0 360.1 272.0 362.1 276.0 362.1 280.0 361.1 294.0 353.5 298.0 350.0 304.0 342.2 310.0 337.4 326.0 329.5 342.0 320.3 352.0 316.1 358.0 315.6 380.0 318.2 387.0 320.0 393.8 324.0 398.4 330.0 404.5 346.0 410.4 356.0 416.4 374.0 422.6 388.0 423.9 396.0 423.5 400.0 419.6 416.0 419.7 420.0 420.7 424.0 423.4 428.0 426.0 430.1 430.0 432.2 436.0 433.6 440.0 433.4 444.0 431.6 446.0 429.9 448.3 426.0 449.5 418.0 447.9 402.0 448.0 398.0 449.3 394.0 454.0 388.5 469.9 378.0 484.0 364.1 490.0 360.0 516.0 354.7 520.0 354.5 524.0 355.2 530.0 358.0 534.0 360.9 548.0 377.0 554.0 382.0 562.0 387.3 566.0 389.2 578.0 392.0 586.0 394.7 598.0 399.1 602.5 402.0 605.9 406.0 608.1 410.0 615.1 430.0 617.7 436.0 624.3 446.0 634.6 456.0 645.2 464.0 652.0 467.1 666.0 470.9 688.0 485.0 690.0 487.5 690.0 488.8 689.2 490.0 686.0 491.0 684.0 492.8 682.8 496.0 682.9 498.0 685.2 502.0 690.0 504.1 694.0 504.1 698.0 502.7 709.1 494.0 716.0 490.6 726.0 487.4 738.0 485.6 741.5 484.0 744.0 481.6 746.5 478.0 752.4 466.0 756.0 454.0 758.0 451.9 760.0 450.9 764.0 450.6 768.0 451.2 770.0 449.7 776.1 442.0 779.7 436.0 780.8 432.0 780.5 428.0 778.5 424.0 770.7 416.0 770.1 414.0 772.0 410.8 776.0 409.4 782.0 410.5 788.0 413.1 796.0 418.5 800.0 422.0 804.8 428.0 807.9 434.0 809.7 440.0 810.5 446.0 810.3 454.0 809.1 462.0 806.9 470.0 804.5 476.0 800.8 482.0 788.2 494.0 786.0 497.0 784.0 502.0 779.4 520.0 776.7 526.0 774.1 530.0 768.0 536.2 754.4 544.0 752.0 546.4 750.4 550.0 748.2 564.0 745.5 570.0 740.0 575.3 730.2 580.0 729.8 582.0 730.5 588.0 730.0 589.7 726.0 593.2 720.0 595.4 716.0 595.2 708.0 593.4 702.0 594.1 698.0 596.2 688.0 604.3 684.0 606.5 680.0 607.0 676.0 605.5 674.0 603.6 672.1 600.0 671.1 592.0 670.3 590.0 668.0 588.6 666.0 588.8 664.0 590.2 654.1 606.0 652.4 612.0 649.5 630.0 647.5 638.0 644.2 646.0 640.4 652.0 634.0 658.7 626.0 664.2 616.0 669.1 593.2 678.0 588.0 680.8 583.8 684.0 580.5 688.0 578.3 694.0 578.3 700.0 580.1 706.0M663.6 706.0L667.2 696.0 673.7 670.0 677.1 662.0 680.7 656.0 685.6 650.0 692.6 644.0 700.0 640.0 710.0 637.0 720.0 635.3 732.0 634.4 750.0 635.3 756.0 635.1 764.0 632.8 786.0 623.4 796.0 620.4 808.0 618.5 822.0 618.6 840.0 621.8 860.0 628.4 880.7 638.0 906.0 652.2M780.0 205.9L788.0 206.4 796.0 209.1 804.0 214.1 812.0 221.9 818.7 232.0 823.9 244.0 824.6 250.0 824.0 252.6 822.0 255.3 816.0 257.9 804.0 260.3 794.0 265.9 788.0 267.7 778.0 267.3 772.0 266.2 766.0 263.1 762.0 259.4 757.4 252.0 755.0 244.0 754.5 234.0 756.1 226.0 759.8 218.0 765.1 212.0 772.0 207.7 778.7 206.0ZM294.0 381.8L291.4 384.0 290.1 386.0 289.0 390.0 290.0 418.8 290.2 420.0 292.0 421.8 298.0 422.9 299.4 424.0 298.8 426.0 294.0 430.1 291.2 436.0 291.1 442.0 293.9 448.0 296.0 450.0 300.0 451.9 310.0 453.9 316.0 454.4 326.0 453.8 344.0 450.2 346.0 449.2 348.6 446.0 349.8 442.0 350.5 434.0 349.8 430.0 346.1 424.0 336.0 416.1 334.5 414.0 329.4 398.0 325.2 390.0 320.0 385.5 314.0 383.1 302.0 380.5 296.0 381.0ZM468.0 459.8L464.0 462.4 460.4 466.0 457.4 472.0 455.3 484.0 451.7 496.0 450.7 502.0 451.5 508.0 454.1 512.0 458.0 515.0 468.0 519.1 472.0 521.4 474.5 524.0 480.0 532.0 482.0 533.2 484.0 533.5 492.0 532.1 508.0 526.5 520.0 520.4 525.5 516.0 530.4 510.0 532.0 506.0 531.6 502.0 528.9 498.0 517.9 492.0 506.0 481.4 502.0 478.8 498.0 478.1 490.0 479.9 488.0 479.0 485.1 476.0 482.5 464.0 480.0 460.1 476.0 458.4 470.0 459.0ZM112.4 706.0L95.5 616.0 91.9 592.0 89.7 570.0 88.8 548.0 89.3 514.0 88.2 486.0 89.2 480.0 94.8 466.0 94.7 458.0 93.0 452.0 82.5 426.0 74.2 410.0 69.5 394.0 65.5 388.0 49.8 370.0 48.3 368.0 48.1 366.0 54.0 359.4 56.2 356.0 58.8 346.0 65.8 334.0 72.0 319.0 76.9 312.0 78.0 311.1 80.0 310.7 86.0 312.1 98.0 317.1 104.0 318.2 110.0 317.3 126.0 313.2 136.0 311.4 144.0 311.2 154.0 312.2 189.4 322.0 200.0 326.1 204.0 328.8 208.0 333.3 210.7 338.0 215.1 348.0 216.0 349.5 218.0 350.8 222.0 350.2 232.0 345.7 236.0 345.5 240.0 346.9 245.5 352.0 250.0 360.0 251.9 362.0 268.3 374.0 271.7 378.0 273.7 382.0 277.4 398.0 279.9 418.0 279.5 422.0 276.3 430.0 275.7 434.0 276.7 438.0 279.9 444.0 285.4 450.0 290.0 452.7 308.0 457.5 314.0 458.3 330.0 457.2 338.0 455.3 346.0 454.3 351.3 452.0 357.7 446.0 363.2 438.0 365.9 432.0 366.8 426.0 365.3 420.0 362.0 415.9 356.0 412.3 346.0 408.8 340.0 404.6 336.0 399.4 328.0 386.0 324.0 381.7 320.0 379.3 311.7 376.0 302.9 370.0 301.2 368.0 300.0 364.0 301.0 360.0 304.2 354.0 311.2 344.0 316.0 339.5 334.0 329.6 342.0 326.3 362.0 323.1 370.0 322.6 380.0 323.6 384.0 324.8 388.0 326.8 391.6 330.0 394.3 334.0 400.0 349.4 405.4 358.0 408.0 366.0 409.6 380.0 410.2 398.0 405.8 414.0 405.7 418.0 406.4 422.0 408.9 428.0 411.5 432.0 432.2 452.0 435.2 456.0 437.1 460.0 438.5 468.0 440.0 498.0 442.2 510.0 444.0 516.2 450.7 530.0 453.7 538.0 456.0 541.3 460.0 543.6 478.0 548.8 482.0 548.8 484.0 548.0 486.5 542.0 490.0 538.6 504.0 534.7 522.0 528.3 528.0 525.5 533.7 522.0 544.6 512.0 546.8 508.0 547.0 502.0 544.6 496.0 542.0 492.9 534.0 488.0 523.8 484.0 521.6 482.0 516.4 474.0 514.0 471.4 508.0 466.8 500.0 462.0 489.3 452.0 475.2 442.0 472.0 438.9 469.1 434.0 465.2 420.0 460.0 407.8 458.9 404.0 458.8 400.0 460.0 397.5 464.0 394.0 494.0 379.0 522.0 371.9 526.0 371.9 530.9 374.0 544.0 392.0 556.0 404.0 566.0 419.9 590.0 450.0 606.0 463.7 625.2 476.0 631.3 482.0 639.8 492.0 656.0 504.0 662.7 512.0 665.4 518.0 665.9 522.0 665.4 526.0 661.0 540.0 658.1 568.0 656.9 572.0 654.4 576.0 652.0 578.1 642.0 582.6 636.8 586.0 633.5 590.0 628.8 602.0 624.4 608.0 618.0 613.2 604.0 622.2 596.0 626.5 588.0 629.2 564.0 632.4 554.0 635.3 542.1 642.0 530.1 652.0 524.5 658.0 520.2 664.0 517.1 670.0 515.3 676.0 514.4 682.0 514.5 690.0 517.5 706.0M775.0 706.0L774.1 696.0 772.1 686.0 765.4 670.0 764.9 664.0 765.7 660.0 768.0 655.6 770.0 653.6 774.0 651.2 782.0 648.8 790.0 648.1 800.0 648.9 810.0 651.2 820.0 655.0 829.8 660.0 839.4 666.0 850.4 674.0 889.5 706.0M788.0 229.8L792.0 230.2 796.2 232.0 800.6 236.0 802.4 240.0 802.0 242.9 799.5 246.0 793.3 250.0 788.0 251.8 786.0 251.6 782.0 249.8 778.9 246.0 777.6 242.0 777.9 238.0 779.8 234.0 782.0 231.9 786.6 230.0ZM784.0 449.5L788.0 449.0 790.0 449.6 792.0 451.1 793.8 454.0 795.6 464.0 795.4 468.0 794.2 472.0 790.0 477.0 775.9 486.0 771.5 490.0 767.7 496.0 762.5 512.0 758.0 517.9 754.0 520.3 740.0 523.3 736.0 525.6 733.6 528.0 731.3 532.0 727.5 542.0 726.7 546.0 726.0 556.8 724.0 561.2 722.0 562.9 718.0 564.8 712.0 565.3 693.3 558.0 690.5 556.0 688.0 550.8 683.0 530.0 683.1 526.0 685.6 522.0 689.1 520.0 694.0 518.9 700.0 518.8 708.0 520.1 710.0 519.8 711.0 518.0 713.0 506.0 716.2 500.0 718.6 498.0 722.0 496.7 742.0 493.5 746.4 492.0 749.7 490.0 753.0 486.0 756.3 476.0 758.2 472.0 762.0 468.6 770.0 466.3 773.6 464.0 778.0 454.6 780.0 452.1 783.1 450.0ZM127.1 706.0L104.0 605.8 100.0 584.4 97.6 566.0 96.3 544.0 96.6 500.0 98.0 486.0 102.5 466.0 102.4 458.0 100.0 452.0 94.3 444.0 92.2 440.0 85.1 422.0 78.3 408.0 73.1 392.0 68.8 386.0 57.3 374.0 55.2 370.0 54.9 368.0 56.5 364.0 62.0 357.9 65.6 346.0 74.2 328.0 76.0 325.1 80.0 322.1 82.0 321.5 86.0 321.9 89.5 324.0 92.0 327.1 97.3 340.0 98.3 354.0 99.2 358.0 100.2 360.0 104.0 361.4 116.0 358.7 118.0 357.5 120.4 354.0 120.5 348.0 118.9 344.0 116.0 341.0 110.0 338.6 108.1 336.0 108.4 332.0 110.0 329.0 112.0 326.8 116.4 324.0 124.0 321.5 140.0 317.8 150.0 316.9 156.0 317.7 186.4 326.0 194.0 328.4 200.0 331.5 204.0 334.9 207.5 340.0 209.6 346.0 210.8 354.0 211.8 356.0 214.0 357.7 218.0 358.3 222.0 357.4 230.0 351.8 234.0 350.4 238.0 351.0 240.0 352.4 242.0 355.5 242.5 358.0 241.7 364.0 252.0 370.5 258.0 375.8 262.5 382.0 265.2 388.0 269.4 402.0 269.9 412.0 268.3 418.0 260.1 430.0 260.4 434.0 263.1 440.0 267.4 446.0 274.6 454.0 280.0 458.0 288.0 459.5 300.0 459.6 308.0 462.7 312.0 463.2 328.0 462.3 350.0 457.8 376.0 447.3 384.0 445.0 390.0 444.3 394.0 444.6 398.0 445.8 404.0 449.0 408.0 452.0 416.0 460.8 422.1 472.0 426.6 486.0 440.0 540.0 443.5 548.0 446.0 550.9 448.0 552.1 456.0 553.9 482.0 555.6 484.0 554.7 490.0 544.8 492.0 543.3 504.0 542.0 514.0 538.0 526.0 535.0 544.0 528.7 556.0 525.6 565.3 522.0 572.8 518.0 573.8 516.0 573.3 512.0 566.0 498.0 560.0 492.1 550.0 486.3 545.5 480.0 538.0 471.3 537.4 468.0 538.0 466.3 540.0 464.5 542.0 464.0 546.0 465.5 552.9 474.0 558.0 477.0 564.0 477.1 576.0 471.2 580.0 471.4 584.0 473.1 590.6 478.0 597.6 486.0 601.1 492.0 606.0 504.9 610.0 509.5 614.0 511.3 618.0 511.9 632.0 510.7 638.0 511.3 642.0 512.7 646.3 516.0 648.8 520.0 650.2 526.0 650.0 532.0 648.7 540.0 646.0 548.2 642.0 556.7 638.0 562.8 634.0 567.1 630.0 570.0 628.0 570.7 618.0 571.8 610.0 570.5 594.0 564.8 590.0 564.3 586.0 565.8 584.6 570.0 584.9 574.0 589.2 588.0 590.3 596.0 589.9 600.0 588.0 602.6 584.0 605.3 580.0 606.9 558.0 611.4 540.0 618.0 523.5 628.0 508.7 638.0 498.7 646.0 492.9 652.0 490.0 656.1 487.2 662.0 485.3 672.0 485.8 686.0 489.6 706.0M370.0 328.0L376.0 328.3 382.0 329.8 385.9 332.0 387.9 334.0 391.0 340.0 396.0 358.0 398.0 360.6 400.0 361.0 401.3 364.0 401.6 370.0 400.4 378.0 398.3 384.0 393.1 394.0 390.7 398.0 388.0 401.0 384.0 403.5 380.0 404.4 374.0 404.0 362.0 400.6 348.0 400.8 342.0 398.0 336.5 392.0 328.0 378.0 316.3 368.0 314.3 364.0 313.4 360.0 313.6 354.0 315.6 348.0 318.2 344.0 324.0 339.4 336.0 333.1 342.0 330.9 368.9 328.0ZM498.0 401.5L506.0 400.5 514.0 401.9 518.0 404.6 521.0 410.0 521.6 414.0 521.2 418.0 518.2 426.0 512.0 434.0 506.0 437.4 500.0 437.8 494.0 435.4 490.0 430.6 487.5 424.0 486.0 416.0 486.6 410.0 488.0 407.4 490.0 405.3 496.1 402.0ZM492.0 554.8L490.8 556.0 490.8 558.0 492.0 558.9 494.0 558.7 494.7 558.0 495.0 556.0 494.0 555.1ZM143.0 706.0L132.5 666.0 112.2 596.0 108.0 577.9 105.1 560.0 103.5 540.0 104.0 514.0 103.6 502.0 111.4 464.0 111.9 458.0 111.1 452.0 108.7 448.0 100.0 442.9 96.0 438.5 88.9 418.0 77.2 388.0 74.0 383.9 62.9 374.0 60.3 370.0 60.4 368.0 61.6 366.0 67.4 360.0 72.0 352.5 78.6 344.0 79.4 332.0 80.0 331.2 82.0 330.9 83.4 332.0 84.4 334.0 84.4 338.0 83.1 344.0 84.6 350.0 90.0 364.7 96.0 374.1 102.0 379.5 108.0 382.1 116.0 382.1 126.0 379.0 130.9 376.0 134.9 372.0 137.2 368.0 138.4 362.0 137.0 354.0 129.5 338.0 128.8 334.0 130.0 332.0 132.0 330.3 136.0 328.0 144.0 325.2 152.0 324.0 173.5 328.0 190.0 332.7 197.9 336.0 202.0 339.3 205.0 344.0 205.5 348.0 204.4 358.0 204.9 360.0 206.0 361.4 210.0 362.9 224.0 364.7 232.4 370.0 242.0 372.2 246.0 373.9 252.0 379.0 255.5 384.0 258.0 389.4 262.7 402.0 263.5 408.0 263.1 412.0 261.9 416.0 255.9 426.0 254.4 430.0 254.1 436.0 255.1 442.0 257.1 448.0 259.8 452.0 268.0 461.0 272.0 464.2 296.0 472.7 300.0 473.5 330.0 468.6 358.0 461.1 370.0 460.5 376.0 461.7 380.0 463.3 390.0 469.9 398.0 470.7 404.0 474.0 408.0 477.5 412.0 482.4 418.0 493.9 424.9 516.0 429.6 536.0 433.3 546.0 435.5 550.0 438.7 554.0 446.0 559.4 452.0 561.5 472.0 563.9 478.0 565.9 488.0 570.5 492.0 571.5 496.0 571.6 502.0 570.2 506.0 567.2 507.9 562.0 508.3 554.0 509.2 550.0 510.6 548.0 513.9 546.0 536.0 542.1 546.0 541.0 552.0 542.2 555.6 544.0 557.8 546.0 560.6 552.0 566.4 576.0 566.7 584.0 565.6 588.0 564.0 590.7 560.3 594.0 556.5 596.0 526.0 607.2 514.0 613.1 478.8 636.0 474.0 640.2 470.1 646.0 466.2 656.0 465.0 666.0 466.1 682.0 470.0 706.0M348.0 334.0L366.0 333.1 374.0 333.7 380.5 336.0 384.2 340.0 386.0 344.5 391.6 366.0 392.0 372.0 390.6 378.0 386.6 386.0 382.0 391.5 378.1 394.0 372.0 395.2 360.0 393.8 350.0 395.6 344.0 393.7 341.8 392.0 338.6 388.0 332.0 374.2 325.7 364.0 323.0 358.0 321.9 354.0 322.0 350.0 323.7 346.0 328.8 342.0 338.0 336.6 342.0 335.1 347.9 334.0ZM160.5 706.0L145.4 656.0 120.0 586.5 115.0 568.0 112.0 552.2 110.4 534.0 110.0 500.5 120.8 466.0 122.1 452.0 121.1 440.0 119.3 436.0 116.0 433.9 112.0 434.3 104.0 437.0 100.0 435.8 98.8 434.0 97.9 430.0 97.1 418.0 97.6 412.0 99.7 408.0 104.0 405.7 110.0 404.5 128.0 402.8 138.0 400.1 144.0 397.0 156.0 388.9 166.0 384.9 181.5 382.0 196.0 380.3 200.0 380.7 208.0 383.6 212.0 383.6 214.6 382.0 215.8 380.0 216.2 376.0 214.8 372.0 216.0 370.4 224.0 373.5 238.0 376.0 242.0 378.0 244.5 380.0 248.0 384.0 252.0 390.9 256.9 402.0 258.1 408.0 257.1 414.0 250.5 426.0 246.3 438.0 245.0 440.0 242.7 442.0 240.0 443.1 228.0 445.2 224.1 448.0 222.9 450.0 222.0 454.0 221.9 466.0 220.9 470.0 216.6 480.0 215.6 492.0 216.0 498.0 218.0 501.2 220.0 503.1 224.0 505.7 228.0 507.3 238.0 508.5 258.0 508.6 282.0 506.0 286.0 504.8 290.0 502.6 292.6 500.0 298.0 491.9 300.1 490.0 304.0 488.2 330.0 480.6 356.0 469.8 362.0 469.5 370.0 471.1 376.0 473.6 398.0 485.7 404.0 490.3 408.0 494.9 412.1 502.0 416.3 514.0 419.8 534.0 422.1 542.0 428.0 554.0 434.0 561.7 442.0 569.3 446.0 572.0 450.0 573.9 460.0 575.7 465.7 578.0 482.8 588.0 486.0 590.5 489.0 594.0 490.1 596.0 490.8 600.0 490.1 604.0 488.1 608.0 486.0 610.5 482.0 613.6 468.0 620.6 463.6 624.0 460.3 630.0 458.1 640.0 453.2 648.0 450.6 654.0 450.1 660.0 454.4 706.0M162.0 335.7L170.0 335.2 182.0 339.5 191.3 342.0 196.0 344.4 197.1 346.0 196.7 348.0 194.0 350.1 190.0 350.8 164.0 350.2 160.0 349.6 156.7 348.0 154.7 346.0 153.7 344.0 153.6 342.0 154.4 340.0 156.5 338.0 160.8 336.0ZM348.0 337.9L358.0 337.2 368.0 338.5 374.0 340.9 376.0 342.5 378.5 346.0 379.8 350.0 380.8 360.0 382.4 368.0 382.3 374.0 379.6 382.0 376.6 386.0 374.0 388.0 368.0 390.1 360.0 390.2 354.0 391.4 350.0 391.4 345.9 390.0 341.9 386.0 340.0 382.0 336.0 369.1 331.4 358.0 330.4 352.0 332.0 348.0 337.3 342.0 342.0 339.4 347.2 338.0ZM454.0 593.9L452.0 594.3 450.0 597.3 450.3 600.0 452.0 601.1 454.0 601.1 455.7 600.0 456.5 598.0 456.0 595.5 454.2 594.0ZM179.9 706.0L169.5 672.0 161.4 650.0 153.4 632.0 134.0 592.8 128.0 578.6 124.0 567.3 119.9 552.0 117.4 536.0 116.5 518.0 117.1 504.0 120.3 490.0 128.6 468.0 132.3 442.0 134.0 438.0 137.1 434.0 144.0 429.3 155.3 426.0 158.0 424.1 163.8 412.0 168.0 406.4 179.2 396.0 187.7 390.0 194.0 387.3 198.0 386.7 202.0 387.4 210.0 390.6 216.0 390.9 220.0 389.6 228.1 384.0 234.0 382.4 237.9 384.0 240.0 386.0 246.0 394.0 251.8 404.0 252.9 410.0 252.0 413.4 250.0 417.0 242.0 429.1 238.0 433.4 232.0 436.1 216.0 438.3 213.1 440.0 212.0 441.6 211.3 448.0 213.3 462.0 213.6 468.0 209.8 496.0 210.0 500.0 211.0 502.0 216.0 507.6 224.0 513.1 246.0 520.9 258.0 519.7 266.0 519.9 282.0 518.9 290.0 517.5 296.7 514.0 312.0 503.9 332.0 496.6 354.0 484.6 362.0 481.8 368.0 482.0 376.0 484.6 388.6 492.0 400.0 500.0 405.3 506.0 408.6 514.0 409.9 524.0 408.3 538.0 408.6 542.0 409.8 546.0 416.3 560.0 420.1 570.0 421.4 576.0 423.2 590.0 426.0 595.4 433.7 604.0 435.4 608.0 435.1 612.0 432.0 615.6 428.0 616.9 422.0 616.7 420.2 618.0 420.2 620.0 426.0 625.4 434.0 634.9 439.9 640.0 440.5 642.0 439.2 656.0 441.0 706.0M352.0 341.7L358.0 341.7 366.0 344.8 370.0 348.5 372.2 354.0 373.2 372.0 372.6 378.0 370.8 382.0 369.2 384.0 366.6 386.0 361.7 388.0 356.0 388.2 350.0 387.3 347.4 386.0 345.0 382.0 343.2 368.0 339.0 356.0 338.5 352.0 339.5 348.0 342.0 344.9 350.3 342.0ZM198.0 421.8L200.0 424.1 200.9 422.0 200.0 420.5ZM201.9 706.0L190.7 668.0 182.5 646.0 173.0 628.0 148.0 592.1 136.4 572.0 131.9 562.0 128.0 550.8 125.3 540.0 123.4 528.0 122.6 512.0 124.0 500.0 126.9 490.0 136.0 470.0 137.5 464.0 139.3 452.0 141.2 446.0 145.2 440.0 150.0 436.4 154.0 435.2 160.0 434.7 172.0 431.4 178.0 432.8 182.0 435.6 198.0 448.7 202.0 453.3 204.8 458.0 207.3 464.0 208.7 472.0 208.3 482.0 205.8 498.0 206.6 502.0 208.7 506.0 212.2 510.0 218.0 514.7 222.0 517.0 234.0 522.3 237.6 526.0 240.0 529.9 242.0 531.3 244.0 531.8 248.0 531.3 256.0 527.5 260.0 526.5 280.0 527.1 292.0 525.1 312.0 516.9 334.0 509.7 342.0 505.5 358.0 495.4 362.0 493.8 366.0 493.1 370.0 493.4 375.5 496.0 386.0 505.4 396.0 513.0 398.4 516.0 399.9 520.0 398.9 524.0 394.7 534.0 393.8 540.0 394.3 546.0 399.0 572.0 398.8 580.0 396.9 594.0 397.3 602.0 399.1 608.0 402.5 614.0 411.7 626.0 423.4 638.0 426.7 644.0 428.1 648.0 429.4 656.0 430.0 672.0 429.7 688.0 428.4 706.0M356.0 379.3L360.0 379.0 361.1 380.0 361.3 382.0 360.0 383.6 358.0 383.8 355.1 382.0 355.0 380.0ZM236.0 403.7L240.0 404.5 242.2 406.0 243.6 408.0 244.0 410.0 243.4 412.0 240.0 417.0 234.0 423.5 230.0 425.7 228.0 425.6 225.3 424.0 222.5 420.0 221.4 416.0 221.4 412.0 222.2 410.0 224.1 408.0 234.4 404.0ZM226.7 706.0L221.1 684.0 212.4 642.0 209.4 632.0 205.9 624.0 202.0 618.0 196.1 612.0 170.0 592.9 162.0 585.9 154.0 577.4 146.0 566.8 140.0 556.7 135.2 546.0 132.0 536.0 129.9 526.0 128.7 514.0 129.0 506.0 130.5 498.0 133.6 490.0 142.1 476.0 145.0 470.0 147.2 452.0 149.2 446.0 152.1 442.0 154.8 440.0 158.0 438.7 164.0 438.4 170.0 440.0 174.0 442.9 180.1 450.0 194.0 457.3 200.0 463.1 203.8 470.0 205.2 476.0 205.1 482.0 202.2 496.0 202.7 502.0 204.3 506.0 208.0 511.1 214.0 516.7 220.0 520.5 228.0 523.7 232.0 526.2 234.0 528.6 240.0 539.1 244.0 542.5 246.0 543.2 250.0 542.9 262.0 535.8 282.0 535.1 310.0 527.6 336.0 523.8 352.0 516.3 358.0 514.3 362.0 514.0 364.0 514.5 368.0 517.6 379.5 532.0 381.3 536.0 383.0 542.0 384.4 558.0 384.1 572.0 382.3 592.0 382.5 598.0 383.6 602.0 386.4 608.0 390.4 614.0 413.0 638.0 416.1 642.0 418.7 648.0 420.0 658.0 420.0 676.0 418.4 690.0 415.5 706.0M255.1 706.0L251.5 692.0 249.1 676.0 248.7 660.0 250.0 646.0 251.9 636.0 254.9 626.0 270.9 586.0 273.6 576.0 276.0 562.1 278.0 557.2 280.5 554.0 283.0 552.0 300.0 540.1 314.0 540.6 330.0 539.2 338.0 537.0 350.0 531.4 356.0 530.1 362.0 531.0 366.9 534.0 371.7 540.0 373.8 546.0 374.2 556.0 370.5 574.0 370.0 584.0 371.5 596.0 374.7 606.0 379.3 614.0 384.3 620.0 400.0 633.0 404.0 637.0 407.6 642.0 410.1 648.0 410.7 654.0 408.5 678.0 405.4 692.0 400.9 706.0M160.0 444.7L162.0 444.7 164.2 446.0 166.0 448.3 170.2 456.0 174.0 460.1 180.0 463.1 188.0 464.5 192.0 465.8 198.0 470.4 201.2 476.0 202.0 480.0 198.3 496.0 198.7 502.0 201.1 508.0 206.0 514.6 212.0 520.5 218.0 524.5 228.0 528.7 229.9 530.0 230.8 532.0 231.6 536.0 231.7 542.0 230.7 546.0 228.6 550.0 218.0 563.1 212.0 569.5 206.0 574.0 200.0 576.7 192.0 577.9 184.0 577.2 174.0 573.7 166.0 568.9 158.0 562.3 150.0 553.2 144.0 543.8 139.0 532.0 136.8 524.0 135.4 514.0 135.2 506.0 136.0 500.1 138.8 494.0 150.8 478.0 155.0 470.0 156.9 462.0 156.9 450.0 158.5 446.0ZM300.0 553.1L296.0 555.6 294.3 558.0 293.9 562.0 295.4 566.0 298.0 568.7 302.0 570.0 306.0 569.8 310.7 568.0 313.3 566.0 314.6 564.0 315.2 560.0 314.0 556.5 312.0 554.1 310.0 552.9 306.0 552.1 302.0 552.5ZM289.0 706.0L283.9 692.0 282.4 684.0 281.7 676.0 281.9 668.0 283.0 660.0 285.1 652.0 288.1 644.0 293.4 634.0 300.0 625.0 306.0 618.7 320.0 606.3 328.6 596.0 334.3 592.0 338.0 590.6 342.0 590.0 346.0 590.3 350.0 591.4 356.0 595.2 360.0 600.0 367.1 614.0 373.1 622.0 380.0 628.0 398.0 639.9 400.1 642.0 402.3 646.0 402.7 650.0 402.0 654.0 395.0 680.0 390.0 692.2 382.0 706.0M174.0 475.8L188.0 474.5 192.0 475.4 195.4 478.0 196.4 480.0 196.4 482.0 194.2 490.0 193.5 496.0 194.1 502.0 195.4 506.0 198.6 512.0 208.0 523.6 219.9 534.0 221.0 536.0 220.6 540.0 216.0 546.5 208.0 552.9 200.0 556.7 192.0 558.3 184.0 558.1 176.0 556.1 168.0 552.5 160.0 546.8 154.0 540.7 149.4 534.0 145.8 526.0 144.0 519.0 143.2 512.0 143.4 506.0 144.4 502.0 153.5 490.0 160.0 482.8 166.0 478.2 172.5 476.0ZM352.0 543.5L356.0 542.1 358.0 542.3 360.0 543.1 362.0 545.1 363.1 548.0 363.2 550.0 362.0 553.8 360.0 556.1 358.0 557.2 354.0 557.6 350.2 556.0 348.4 554.0 347.6 552.0 348.1 548.0 351.3 544.0ZM178.0 487.9L182.0 488.8 184.0 490.6 191.0 510.0 198.9 522.0 200.6 526.0 201.7 530.0 201.5 534.0 200.0 536.6 196.0 539.0 192.0 539.9 184.0 540.2 178.0 539.3 170.0 536.8 164.0 533.7 160.0 530.4 156.6 526.0 154.7 522.0 153.6 516.0 153.8 512.0 155.8 506.0 159.2 500.0 164.0 494.2 168.0 491.1 172.0 489.1 177.2 488.0ZM346.0 631.5L350.0 630.6 354.0 630.8 364.0 634.2 379.8 642.0 386.0 645.8 388.1 648.0 389.2 652.0 387.7 658.0 382.0 670.0 376.0 679.1 370.0 685.8 364.0 690.7 358.0 694.3 350.0 696.9 344.0 697.5 338.0 696.6 334.0 695.0 327.2 690.0 324.1 686.0 322.0 681.9 320.3 676.0 319.7 670.0 320.2 664.0 321.7 658.0 326.7 648.0 331.4 642.0 335.5 638.0 340.0 634.6 344.8 632.0ZM170.0 505.9L174.0 504.9 176.0 505.5 178.0 506.9 180.0 509.5 182.2 516.0 182.0 518.2 180.0 521.1 176.0 522.3 172.0 522.1 168.0 520.3 166.0 518.1 165.2 516.0 165.3 512.0 167.5 508.0 169.8 506.0Z" fill="none" stroke="#fff" stroke-width="2.0" stroke-linejoin="round"/></g><path d="M791.4 375.8 L788.4 377.2 L786.4 380.0 L784.3 382.5 L782.8 384.6 L783.3 387.2 L782.7 389.4 L781.6 392.2 L783.9 394.0 L784.5 396.3 L781.1 398.2 L781.5 402.1 L779.0 403.9 L779.6 406.9 L777.7 408.5 L777.7 411.0 L776.0 413.2 L776.2 416.1 L777.0 419.3 L778.8 422.2 L779.8 424.4 L782.4 424.9 L783.9 426.8 L786.7 428.5 L790.0 428.5 L799.0 429.0 L800.7 427.2 L802.2 425.0 L802.2 422.3 L801.2 419.7 L801.7 417.1 L802.2 414.5 L802.4 411.9 L801.1 409.0 L800.2 406.0 L799.5 403.7 L800.2 401.1 L798.5 399.1 L796.3 397.5 L795.1 395.0 L792.4 394.2 L793.3 391.6 L791.6 389.4 L792.2 386.7 L790.6 384.5 L791.4 382.4 L791.7 380.2 L791.5 377.9 L792.4 375.8Z" fill="#fff" stroke="#000" stroke-width="0.8"/><path d="M75.0 164.6 L82.8 171.0 L94.6 176.4 L99.2 180.0 L92.8 186.4 L90.0 193.7 L94.6 197.4 L100.1 194.6 L103.7 188.3 L107.4 181.0 L105.6 177.3 L106.5 160.0 L119.2 163.7 L140.0 169.1 L170.0 177.0 L220.0 187.5 L276.0 197.5 L359.8 208.0 L456.0 212.5 L484.8 212.0 L485.5 204.5 L488.5 204.5 L490.5 217.0 L503.4 220.5 L515.1 219.3 L524.5 226.3 L536.2 228.7 L545.6 227.5 L562.0 229.8 L545.6 243.9 L529.2 258.0 L540.9 255.6 L550.3 254.4 L557.3 258.0 L560.0 254.3 L565.9 253.3 L572.7 250.4 L579.5 242.6 L586.4 239.2 L589.3 239.6 L584.4 243.6 L581.5 248.4 L581.0 253.3 L586.4 250.9 L591.3 251.4 L597.1 256.3 L602.0 258.2 L606.9 258.2 L610.8 256.3 L614.7 253.8 L620.5 252.8 L626.4 251.4 L630.3 249.9 L631.3 254.3 L637.1 254.3 L641.1 254.3 L643.0 258.2 L646.9 262.1 L647.9 263.6 L638.1 264.6 L630.3 266.0 L622.5 267.0 L614.7 268.0 L610.8 270.9 L604.9 269.9 L603.0 275.8 L599.1 283.6 L596.1 288.5 L593.2 293.4 L591.3 300.0 L596.0 312.0 L598.2 325.0 L598.2 340.0 L601.0 352.0 L604.5 360.0 L606.8 360.4 L613.7 357.0 L617.8 352.9 L620.5 344.7 L621.9 331.0 L617.8 317.3 L616.4 306.4 L618.6 300.0 L619.6 293.4 L622.5 287.5 L626.4 283.6 L627.4 287.5 L630.3 283.6 L630.3 279.7 L638.1 275.8 L647.9 273.8 L655.7 275.8 L660.0 279.7 L660.8 284.0 L659.5 295.0 L660.2 298.2 L654.7 305.0 L654.7 310.5 L658.8 311.9 L662.9 305.0 L668.4 302.3 L673.8 306.4 L677.9 321.4 L677.9 328.3 L673.8 335.1 L671.1 342.0 L668.4 347.4 L667.0 351.5 L673.8 354.3 L682.0 355.6 L693.0 352.9 L698.4 348.8 L706.6 343.3 L716.2 337.9 L727.2 328.3 L734.0 320.0 L735.4 314.6 L729.9 310.5 L731.3 307.8 L740.0 305.0 L744.5 305.0 L757.0 300.0 L767.0 297.5 L769.5 287.5 L766.5 282.5 L771.6 273.7 L781.3 261.4 L806.8 256.1 L831.4 249.1 L833.2 243.8 L842.0 235.0 L843.7 222.7 L845.5 208.7 L849.0 192.9 L852.5 190.7 L856.0 193.7 L863.0 189.3 L871.0 192.0 L878.9 219.2 L885.9 221.0 L887.7 229.8 L894.7 230.6 L896.4 233.3 L892.9 236.8 L889.4 240.3 L884.1 243.8 L878.9 247.3 L873.6 250.9 L870.1 256.1 L866.6 259.6 L861.3 263.2 L857.8 268.4 L854.3 275.5 L852.5 282.5 L851.6 289.5 L853.6 297.0 L856.2 302.3 L860.6 305.8 L862.4 309.3 L857.1 312.9 L855.3 317.2 L851.0 321.6 L843.0 325.2 L834.3 327.8 L825.5 330.4 L818.4 335.7 L814.9 342.7 L813.2 348.0 L816.7 351.5 L817.6 360.3 L816.7 369.1 L813.2 374.4 L811.4 381.4 L806.1 379.6 L799.1 374.4 L795.6 372.6 L799.1 381.4 L804.4 390.2 L809.6 395.5 L808.0 400.0 L805.6 407.0 L803.3 414.1 L801.0 423.4 L802.1 430.5 L805.6 436.3 L812.7 450.4 L810.3 456.3 L805.6 463.3 L802.1 470.3 L796.3 477.3 L789.2 482.0 L784.5 490.0 L775.0 500.0 L766.2 507.5 L760.0 520.0 L750.0 530.0 L740.0 537.5 L735.0 552.5 L732.5 570.0 L735.0 582.5 L742.5 600.0 L748.8 612.5 L753.4 618.8 L759.7 631.3 L765.9 642.2 L770.6 650.0 L772.2 659.4 L773.0 670.3 L770.6 685.2 L764.4 686.7 L757.3 688.3 L756.6 682.8 L751.9 677.3 L745.6 674.2 L740.9 668.8 L736.3 660.9 L731.6 656.3 L726.9 651.6 L722.2 645.3 L720.6 639.0 L717.5 632.8 L718.3 623.4 L717.5 614.1 L709.7 610.2 L705.0 604.7 L700.3 600.0 L687.5 596.2 L675.0 600.0 L665.0 602.5 L655.0 595.0 L637.5 592.5 L622.5 595.0 L617.5 590.0 L615.0 595.0 L607.0 596.0 L599.4 598.0 L591.6 600.0 L585.7 598.0 L587.7 602.0 L591.6 606.0 L587.7 609.8 L591.6 615.7 L593.5 621.6 L587.7 619.6 L581.8 621.6 L578.0 617.7 L574.0 621.6 L568.0 624.5 L562.3 621.6 L554.5 616.7 L548.6 612.8 L540.8 615.7 L529.0 614.7 L509.5 613.8 L502.5 616.0 L492.5 617.5 L485.0 627.5 L475.0 632.5 L464.0 642.3 L459.4 641.6 L454.7 646.2 L450.0 649.4 L444.5 654.0 L446.9 659.5 L440.6 662.7 L443.8 665.8 L442.2 672.8 L443.8 677.5 L446.9 686.9 L450.0 693.1 L446.1 695.5 L434.0 691.0 L421.9 686.9 L414.8 683.0 L411.7 674.4 L407.8 666.6 L407.0 658.8 L400.0 651.7 L390.0 632.5 L380.0 617.5 L372.5 611.2 L357.5 608.8 L345.0 615.0 L341.2 626.2 L330.0 617.5 L320.0 607.5 L315.0 595.0 L310.0 585.0 L297.5 572.5 L290.0 562.5 L286.2 558.8 L285.0 561.2 L256.2 558.8 L255.0 567.5 L240.0 565.5 L205.0 560.0 L146.0 525.0 L148.0 520.0 L105.0 515.5 L106.2 515.0 L102.5 502.5 L95.0 490.0 L85.0 477.5 L67.5 467.5 L57.5 460.0 L56.2 445.0 L51.2 430.0 L47.5 415.0 L45.0 402.5 L42.5 390.0 L38.8 376.2 L33.8 357.5 L32.5 345.0 L31.5 335.0 L31.2 325.0 L36.2 312.5 L43.0 293.8 L45.0 280.0 L52.5 262.5 L62.5 242.5 L70.0 222.5 L71.8 210.1 L72.8 202.8 L74.1 195.6 L75.0 188.3 L73.7 172.8Z" fill="none" stroke="#000" stroke-width="1.2" stroke-linejoin="round"/><path d="M801.5 432.0 L797.0 437.0 L799.0 440.0 L794.0 443.5 L798.0 447.0 L801.0 446.0 L797.0 451.0 L794.0 455.0 L798.0 457.0 L803.0 455.0 L799.0 460.0 L793.0 463.0 L797.0 466.0 L801.0 464.0 L798.0 470.0 L794.0 474.0" fill="none" stroke="#000" stroke-width="1" stroke-linejoin="round"/><path d="M78.8 211.2 L86.2 216.2 L90.0 228.8 L115.0 233.8 L137.5 233.8 L170.0 240.0M180.0 178.0 L177.5 205.0 L170.0 240.0M170.0 240.0 L175.0 250.0 L158.8 272.5 L162.5 277.5 L150.0 322.5M43.0 293.8 L105.0 312.5 L150.0 322.5M105.0 312.5 L100.0 330.0 L90.0 371.2 L157.5 472.5M157.5 472.5 L162.5 490.0 L155.0 500.0 L150.0 510.0 L148.0 520.0M150.0 322.5 L195.0 332.5 L240.0 338.8M195.0 332.5 L176.2 435.0M176.2 435.0 L171.2 452.5 L162.5 451.2 L157.5 472.5M190.0 181.0 L192.5 202.5 L195.0 215.0 L206.2 235.0 L202.5 255.0 L215.0 267.5 L220.0 282.5 L245.0 286.2 L248.8 278.0M248.8 278.0 L242.5 338.8 L240.0 338.8M240.0 338.8 L237.5 360.0 L268.8 365.0M248.8 278.0 L276.0 280.0 L352.2 288.8M361.0 208.0 L356.0 271.2 L352.2 288.8M352.2 288.8 L351.0 331.2 L347.2 372.5M268.8 365.0 L347.2 372.5 L378.5 376.2 L377.2 397.0M268.8 365.0 L258.0 448.5 L248.8 515.0 L241.2 565.5M176.2 435.0 L258.0 448.5 L301.0 452.5 L356.0 455.7 L372.2 456.7 L496.0 463.8M377.2 397.0 L373.5 435.0 L372.2 456.7M351.0 331.2 L436.0 337.5 L443.5 340.0 L463.5 342.5M377.2 397.0 L483.5 400.0M463.5 342.5 L468.5 355.0 L476.0 375.0 L478.5 387.5 L483.5 397.5 L483.5 400.0 L488.5 405.0 L491.0 415.0 L494.8 417.5 L496.0 417.5 L496.0 463.8 L497.2 473.8 L498.8 500.0 L500.0 533.8M356.0 455.7 L352.5 500.0 L348.8 563.8 L285.0 558.8M356.0 470.0 L406.0 472.5 L404.8 522.0 L415.0 520.0 L430.0 522.5 L445.0 527.5 L455.0 531.2 L470.0 531.2 L482.5 527.5 L495.0 530.0 L500.0 533.8M500.0 533.8 L506.2 546.2 L556.2 545.0M506.2 546.2 L507.5 567.5 L515.0 582.5 L517.5 600.0 L512.5 615.0M529.2 258.0 L526.9 267.3 L521.0 276.7 L519.8 288.4 L521.0 297.8 L533.9 307.2 L543.3 316.5 L548.0 328.2 L550.0 337.0 L557.0 345.0 L562.0 355.0 L550.8 370.0 L547.0 387.5 L550.8 400.0 L557.0 410.0 L564.5 420.0 L569.5 435.0 L578.2 447.5 L584.5 460.0 L582.0 470.0 L577.0 482.5 L572.0 497.5 L567.5 505.0 L560.0 520.0 L555.0 545.0 L560.0 557.5 L555.0 575.0 L551.2 587.5M456.0 212.5 L459.8 232.5 L462.0 255.0 L463.5 275.0 L461.0 282.5 L464.8 292.5 L464.8 326.0 L463.5 342.5M356.0 271.2 L463.5 275.0M464.8 326.0 L548.0 327.0M478.5 387.5 L532.0 385.0 L547.0 387.5M557.0 345.0 L598.2 341.2M604.5 360.0 L607.0 412.5 L603.2 440.0M584.5 460.0 L589.5 452.5 L597.0 447.5 L603.2 440.0 L614.5 437.5 L627.0 435.0 L637.0 427.5 L640.0 425.6 L644.9 417.4 L649.8 415.0 L652.2 407.7 L659.5 408.5 L664.4 412.6 L672.6 415.0 L682.3 412.6 L688.8 417.4 L693.7 412.6 L697.0 406.0 L701.9 401.2 L705.1 396.3 L710.0 391.4 L713.3 386.5 L715.0 377.0 L715.4 368.0M646.5 352.9 L649.0 380.0 L652.2 407.7M605.5 361.1 L617.8 355.6 L646.5 352.9 L667.0 350.8M712.1 339.2 L716.0 383.5M720.0 333.0 L786.8 323.4 L793.8 325.2M716.0 383.5 L793.8 370.9 L800.9 395.5 L809.6 395.5M793.8 325.2 L797.3 330.4 L800.9 335.7 L799.1 346.3 L797.3 353.3 L802.6 363.8 L797.3 369.1 L793.8 370.9M797.3 330.4 L814.9 337.5M805.0 256.0 L815.6 291.3 L817.6 305.8 L816.7 316.4 L820.2 334.0M816.7 316.4 L843.0 311.1 L850.0 308.5M843.0 311.1 L846.6 323.4M815.6 292.0 L829.0 296.0 L851.0 291.0M831.4 249.1 L833.2 254.4 L827.9 264.9 L827.0 279.0 L826.5 294.0M839.3 250.9 L850.7 284.3 L851.0 291.0M735.8 385.0 L737.6 392.0 L746.4 385.0 L755.2 381.4 L760.4 381.4 L764.0 386.7 L769.2 390.2 L776.2 392.0 L778.0 399.0 L776.2 404.3 L779.8 406.0M755.6 383.3 L754.0 389.8 L747.4 399.5 L744.2 407.7 L737.7 409.3 L734.4 412.6 L731.2 425.6 L729.5 432.1 L721.4 433.7 L711.6 438.6 L701.9 440.2 L698.6 433.7 L692.1 425.6 L688.8 417.4M698.6 440.2 L693.7 445.1 L687.2 451.6 L682.3 456.5M582.0 470.0 L604.5 465.0 L640.0 461.4 L682.3 456.5 L710.0 454.1 L780.0 442.7 L801.0 438.7M710.0 454.9 L706.7 461.4 L695.3 468.7 L690.5 474.4 L682.3 477.7 L675.8 482.6 L670.9 488.3 L670.9 492.3M569.5 502.5 L606.2 500.5 L640.0 496.4 L670.9 492.3 L688.8 490.7 L705.1 484.2 L726.3 482.9 L731.2 487.4 L750.7 485.5 L767.0 497.2M688.8 492.3 L695.3 500.5 L712.5 517.5 L725.0 530.0 L735.0 542.5M606.2 500.5 L610.0 596.2M649.8 497.2 L652.2 505.0 L657.5 520.0 L666.2 550.0 L667.5 577.5M626.2 593.8 L622.5 582.5 L667.5 577.5 L672.5 583.8 L722.5 580.0 L723.8 583.8 L731.2 577.5M551.2 587.5 L583.8 586.2 L587.5 600.0 L588.8 602.5M497.2 473.8 L532.0 472.5 L570.8 471.2 L567.0 481.2 L578.0 480.0M574.6 269.0 L586.4 270.9 L592.2 275.8 L595.2 284.6 L596.1 287.5" fill="none" stroke="#000" stroke-width="1.4" stroke-linejoin="round"/><g font-size="20.5" text-anchor="middle" fill="#fff" stroke="#fff" stroke-width="5" stroke-linejoin="round"><text transform="translate(107.0 177.4) scale(1.0 1)">75</text><text transform="translate(185.0 200.4) scale(1.0 1)">75</text><text transform="translate(102.0 237.4) scale(1.0 1)">81</text><text transform="translate(57.0 292.4) scale(1.0 1)">88</text><text transform="translate(234.0 269.4) scale(1.0 1)">81</text><text transform="translate(336.0 244.4) scale(1.0 1)">73</text><text transform="translate(423.0 219.4) scale(1.0 1)">75</text><text transform="translate(263.0 332.4) scale(1.0 1)">79</text><text transform="translate(347.0 318.4) scale(1.0 1)">91</text><text transform="translate(482.0 287.4) scale(1.0 1)">82</text><text transform="translate(562.0 275.4) scale(1.0 1)">79</text><text transform="translate(636.0 279.4) scale(1.0 1)">72</text><text transform="translate(843.0 252.4) scale(1.0 1)">77</text><text transform="translate(819.0 307.4) scale(1.0 1)">75</text><text transform="translate(667.0 347.4) scale(1.0 1)">76</text><text transform="translate(593.0 359.4) scale(1.0 1)">82</text><text transform="translate(479.0 347.4) scale(1.0 1)">85</text><text transform="translate(800.0 367.4) scale(1.0 1)">74</text><text transform="translate(136.0 379.4) scale(1.0 1)">90</text><text transform="translate(42.0 397.4) scale(1.0 1)">59</text><text transform="translate(271.0 390.4) scale(1.0 1)">95</text><text transform="translate(350.0 394.4) scale(1.0 1)">100</text><text transform="translate(541.0 421.4) scale(1.0 1)">88</text><text transform="translate(624.0 430.4) scale(1.0 1)">84</text><text transform="translate(787.0 426.4) scale(1.0 1)">89</text><text transform="translate(709.0 438.4) scale(1.0 1)">73</text><text transform="translate(199.0 445.4) scale(1.0 1)">97</text><text transform="translate(291.0 453.4) scale(1.0 1)">88</text><text transform="translate(378.0 454.4) scale(1.0 1)">92</text><text transform="translate(455.0 454.4) scale(1.0 1)">86</text><text transform="translate(102.0 487.4) scale(1.0 1)">95</text><text transform="translate(530.0 510.4) scale(1.0 1)">93</text><text transform="translate(604.0 502.4) scale(1.0 1)">90</text><text transform="translate(700.0 521.4) scale(1.0 1)">86</text><text transform="translate(779.0 504.4) scale(1.0 1)">84</text><text transform="translate(245.0 513.4) scale(1.0 1)">90</text><text transform="translate(416.0 526.4) scale(1.0 1)">95</text><text transform="translate(486.0 578.4) scale(1.0 1)">90</text><text transform="translate(571.0 579.4) scale(1.0 1)">91</text><text transform="translate(650.0 591.4) scale(1.0 1)">90</text><text transform="translate(725.0 615.4) scale(1.0 1)">79</text><text transform="translate(334.0 603.4) scale(1.0 1)">100</text><text transform="translate(476.0 637.4) scale(1.0 1)">94</text><text transform="translate(555.0 643.4) scale(1.0 1)">86</text><text transform="translate(435.0 695.4) scale(1.0 1)">97</text><text transform="translate(769.0 685.4) scale(1.0 1)">84</text></g><g font-size="20.5" text-anchor="middle" fill="#000" stroke="#000" stroke-width="0.45"><text transform="translate(107.0 177.4) scale(1.0 1)">75</text><text transform="translate(185.0 200.4) scale(1.0 1)">75</text><text transform="translate(102.0 237.4) scale(1.0 1)">81</text><text transform="translate(57.0 292.4) scale(1.0 1)">88</text><text transform="translate(234.0 269.4) scale(1.0 1)">81</text><text transform="translate(336.0 244.4) scale(1.0 1)">73</text><text transform="translate(423.0 219.4) scale(1.0 1)">75</text><text transform="translate(263.0 332.4) scale(1.0 1)">79</text><text transform="translate(347.0 318.4) scale(1.0 1)">91</text><text transform="translate(482.0 287.4) scale(1.0 1)">82</text><text transform="translate(562.0 275.4) scale(1.0 1)">79</text><text transform="translate(636.0 279.4) scale(1.0 1)">72</text><text transform="translate(843.0 252.4) scale(1.0 1)">77</text><text transform="translate(819.0 307.4) scale(1.0 1)">75</text><text transform="translate(667.0 347.4) scale(1.0 1)">76</text><text transform="translate(593.0 359.4) scale(1.0 1)">82</text><text transform="translate(479.0 347.4) scale(1.0 1)">85</text><text transform="translate(800.0 367.4) scale(1.0 1)">74</text><text transform="translate(136.0 379.4) scale(1.0 1)">90</text><text transform="translate(42.0 397.4) scale(1.0 1)">59</text><text transform="translate(271.0 390.4) scale(1.0 1)">95</text><text transform="translate(350.0 394.4) scale(1.0 1)">100</text><text transform="translate(541.0 421.4) scale(1.0 1)">88</text><text transform="translate(624.0 430.4) scale(1.0 1)">84</text><text transform="translate(787.0 426.4) scale(1.0 1)">89</text><text transform="translate(709.0 438.4) scale(1.0 1)">73</text><text transform="translate(199.0 445.4) scale(1.0 1)">97</text><text transform="translate(291.0 453.4) scale(1.0 1)">88</text><text transform="translate(378.0 454.4) scale(1.0 1)">92</text><text transform="translate(455.0 454.4) scale(1.0 1)">86</text><text transform="translate(102.0 487.4) scale(1.0 1)">95</text><text transform="translate(530.0 510.4) scale(1.0 1)">93</text><text transform="translate(604.0 502.4) scale(1.0 1)">90</text><text transform="translate(700.0 521.4) scale(1.0 1)">86</text><text transform="translate(779.0 504.4) scale(1.0 1)">84</text><text transform="translate(245.0 513.4) scale(1.0 1)">90</text><text transform="translate(416.0 526.4) scale(1.0 1)">95</text><text transform="translate(486.0 578.4) scale(1.0 1)">90</text><text transform="translate(571.0 579.4) scale(1.0 1)">91</text><text transform="translate(650.0 591.4) scale(1.0 1)">90</text><text transform="translate(725.0 615.4) scale(1.0 1)">79</text><text transform="translate(334.0 603.4) scale(1.0 1)">100</text><text transform="translate(476.0 637.4) scale(1.0 1)">94</text><text transform="translate(555.0 643.4) scale(1.0 1)">86</text><text transform="translate(435.0 695.4) scale(1.0 1)">97</text><text transform="translate(769.0 685.4) scale(1.0 1)">84</text></g><rect x="939.1" y="104.3" width="20.4" height="8.8" fill="#c83c3c"/><rect x="939.1" y="112.8" width="20.4" height="15.2" fill="#e16464"/><rect x="939.1" y="127.7" width="20.4" height="15.3" fill="#f5a0a0"/><rect x="939.1" y="142.7" width="20.4" height="15.3" fill="#ffc8c8"/><rect x="939.1" y="157.7" width="20.4" height="15.5" fill="#f0dcd2"/><rect x="939.1" y="172.9" width="20.4" height="15.5" fill="#e1beb4"/><rect x="939.1" y="188.1" width="20.4" height="15.2" fill="#b48c82"/><rect x="939.1" y="203.0" width="20.4" height="15.5" fill="#8c645a"/><rect x="939.1" y="218.2" width="20.4" height="8.1" fill="#785046"/><rect x="939.1" y="226.0" width="20.4" height="15.3" fill="#643c32"/><rect x="939.1" y="241.0" width="20.4" height="15.3" fill="#a50000"/><rect x="939.1" y="256.0" width="20.4" height="15.3" fill="#c00000"/><rect x="939.1" y="271.0" width="20.4" height="15.3" fill="#e11400"/><rect x="939.1" y="286.0" width="20.4" height="15.3" fill="#ff3200"/><rect x="939.1" y="301.0" width="20.4" height="16.3" fill="#ff6000"/><rect x="939.1" y="317.0" width="20.4" height="22.3" fill="#ffa000"/><rect x="939.1" y="339.0" width="20.4" height="15.3" fill="#ffe6a0"/><rect x="939.1" y="354.0" width="20.4" height="30.3" fill="#b4f0d2"/><rect x="939.1" y="384.0" width="20.4" height="15.3" fill="#96f08c"/><rect x="939.1" y="399.0" width="20.4" height="31.3" fill="#64e664"/><rect x="939.1" y="430.0" width="20.4" height="15.3" fill="#37c83c"/><rect x="939.1" y="445.0" width="20.4" height="22.8" fill="#14a01e"/><rect x="939.1" y="467.5" width="20.4" height="16.1" fill="#ebf0fa"/><rect x="939.1" y="483.3" width="20.4" height="45.0" fill="#96d2fa"/><rect x="939.1" y="528.0" width="20.4" height="30.6" fill="#4696f0"/><rect x="939.1" y="558.3" width="20.4" height="8.3" fill="#2882e6"/><rect x="939.1" y="566.3" width="20.4" height="29.8" fill="#1e64d2"/><rect x="939.1" y="595.8" width="20.4" height="14.9" fill="#646464"/><rect x="939.1" y="610.4" width="20.4" height="15.7" fill="#969696"/><rect x="939.1" y="625.8" width="20.4" height="14.9" fill="#bcbcbc"/><rect x="939.1" y="640.4" width="20.4" height="15.7" fill="#d2d2d2"/><rect x="939.1" y="655.8" width="20.4" height="7.8" fill="#e6e6e6"/><path d="M939.1 104.3 L949.3 76.9 L959.5 104.3 Z" fill="#c83c3c"/><path d="M939.1 663.3 L949.3 690.4 L959.5 663.3 Z" fill="#e6e6e6"/><path d="M939.1 104.3 L949.3 76.9 L959.5 104.3 V663.3 L949.3 690.4 L939.1 663.3 Z" fill="none" stroke="#000" stroke-width="1"/><g font-size="23" fill="#000" stroke="#000" stroke-width="0.3"><path d="M959.5 135.2 h5" stroke="#000" stroke-width="1"/><text transform="translate(971 143.2) scale(1.08 1)">110</text><path d="M959.5 172.9 h5" stroke="#000" stroke-width="1"/><text transform="translate(971 180.9) scale(1.08 1)">100</text><path d="M959.5 210.6 h5" stroke="#000" stroke-width="1"/><text transform="translate(971 218.6) scale(1.08 1)">90</text><path d="M959.5 248.3 h5" stroke="#000" stroke-width="1"/><text transform="translate(971 256.3) scale(1.08 1)">80</text><path d="M959.5 286.1 h5" stroke="#000" stroke-width="1"/><text transform="translate(971 294.1) scale(1.08 1)">70</text><path d="M959.5 323.8 h5" stroke="#000" stroke-width="1"/><text transform="translate(971 331.8) scale(1.08 1)">60</text><path d="M959.5 361.5 h5" stroke="#000" stroke-width="1"/><text transform="translate(971 369.5) scale(1.08 1)">50</text><path d="M959.5 399.2 h5" stroke="#000" stroke-width="1"/><text transform="translate(971 407.2) scale(1.08 1)">40</text><path d="M959.5 436.9 h5" stroke="#000" stroke-width="1"/><text transform="translate(971 444.9) scale(1.08 1)">30</text><path d="M959.5 474.7 h5" stroke="#000" stroke-width="1"/><text transform="translate(971 482.7) scale(1.08 1)">20</text><path d="M959.5 512.4 h5" stroke="#000" stroke-width="1"/><text transform="translate(971 520.4) scale(1.08 1)">10</text><path d="M959.5 550.1 h5" stroke="#000" stroke-width="1"/><text transform="translate(971 558.1) scale(1.08 1)">0</text><path d="M959.5 587.8 h5" stroke="#000" stroke-width="1"/><rect x="969.2" y="588.1" width="6.4" height="1.9" fill="#000" stroke="none"/><text transform="translate(976.4 595.8) scale(1.08 1)">10</text><path d="M959.5 625.5 h5" stroke="#000" stroke-width="1"/><rect x="969.2" y="625.8" width="6.4" height="1.9" fill="#000" stroke="none"/><text transform="translate(976.4 633.5) scale(1.08 1)">20</text><path d="M959.5 663.3 h5" stroke="#000" stroke-width="1"/><rect x="969.2" y="663.6" width="6.4" height="1.9" fill="#000" stroke="none"/><text transform="translate(976.4 671.3) scale(1.08 1)">30</text></g><text x="10.5" y="744.4" font-size="13.6" fill="#000" textLength="451" lengthAdjust="spacingAndGlyphs">Iowa Environmental Mesonet :: generated 10 July 2020 05:51 PM</text><text x="918.7" y="744.5" font-size="13.6" fill="#000" textLength="94.2" lengthAdjust="spacingAndGlyphs">data units :: F</text></g></svg></body></html>
